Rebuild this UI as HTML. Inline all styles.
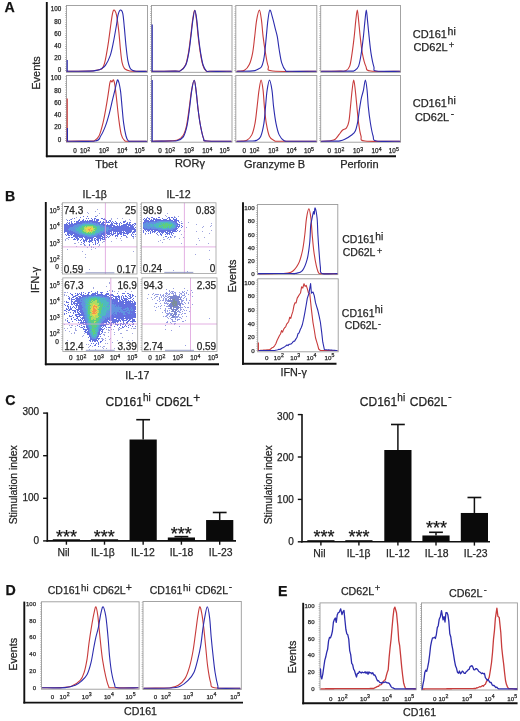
<!DOCTYPE html>
<html><head><meta charset="utf-8"><title>Figure</title>
<style>
html,body{margin:0;padding:0;background:#fff;width:520px;height:721px;overflow:hidden;}
svg{display:block;filter:blur(0.3px);}
text{font-family:"Liberation Sans", sans-serif;stroke:#2a2a2a;stroke-width:0.25px;}
</style></head><body>
<svg width="520" height="721" viewBox="0 0 520 721">
<rect width="520" height="721" fill="#fff"/>
<g font-family='"Liberation Sans", sans-serif'>
<text x="4.6" y="11.9" font-size="14.2" text-anchor="start" font-weight="bold" fill="#111">A</text>
<line x1="46.8" y1="2" x2="46.8" y2="157.2" stroke="#111" stroke-width="1.9"/>
<line x1="45.9" y1="156.3" x2="396" y2="156.3" stroke="#111" stroke-width="1.9"/>
<text transform="translate(40.3 73) rotate(-90)" x="0" y="0" font-size="11" text-anchor="middle" fill="#222">Events</text>
<rect x="66.5" y="5.5" width="81" height="66.8" fill="none" stroke="#9a9a9a" stroke-width="0.9"/>
<line x1="65.7" y1="6.5" x2="65.7" y2="71.3" stroke="#999" stroke-width="1.2" stroke-dasharray="0.6 1.6"/>
<rect x="66.5" y="75.5" width="81" height="66.7" fill="none" stroke="#9a9a9a" stroke-width="0.9"/>
<line x1="65.7" y1="76.5" x2="65.7" y2="141.2" stroke="#999" stroke-width="1.2" stroke-dasharray="0.6 1.6"/>
<rect x="151.5" y="5.5" width="80.5" height="66.8" fill="none" stroke="#9a9a9a" stroke-width="0.9"/>
<line x1="150.7" y1="6.5" x2="150.7" y2="71.3" stroke="#999" stroke-width="1.2" stroke-dasharray="0.6 1.6"/>
<rect x="151.5" y="75.5" width="80.5" height="66.7" fill="none" stroke="#9a9a9a" stroke-width="0.9"/>
<line x1="150.7" y1="76.5" x2="150.7" y2="141.2" stroke="#999" stroke-width="1.2" stroke-dasharray="0.6 1.6"/>
<rect x="235.8" y="5.5" width="81" height="66.8" fill="none" stroke="#9a9a9a" stroke-width="0.9"/>
<line x1="235" y1="6.5" x2="235" y2="71.3" stroke="#999" stroke-width="1.2" stroke-dasharray="0.6 1.6"/>
<rect x="235.8" y="75.5" width="81" height="66.7" fill="none" stroke="#9a9a9a" stroke-width="0.9"/>
<line x1="235" y1="76.5" x2="235" y2="141.2" stroke="#999" stroke-width="1.2" stroke-dasharray="0.6 1.6"/>
<rect x="320.7" y="5.5" width="79.8" height="66.8" fill="none" stroke="#9a9a9a" stroke-width="0.9"/>
<line x1="319.9" y1="6.5" x2="319.9" y2="71.3" stroke="#999" stroke-width="1.2" stroke-dasharray="0.6 1.6"/>
<rect x="320.7" y="75.5" width="79.8" height="66.7" fill="none" stroke="#9a9a9a" stroke-width="0.9"/>
<line x1="319.9" y1="76.5" x2="319.9" y2="141.2" stroke="#999" stroke-width="1.2" stroke-dasharray="0.6 1.6"/>
<text x="61.3" y="11.37" font-size="6.3" text-anchor="end" fill="#222">100</text>
<text x="61.3" y="23.55" font-size="6.3" text-anchor="end" fill="#222">80</text>
<text x="61.3" y="35.73" font-size="6.3" text-anchor="end" fill="#222">60</text>
<text x="61.3" y="47.91" font-size="6.3" text-anchor="end" fill="#222">40</text>
<text x="61.3" y="60.09" font-size="6.3" text-anchor="end" fill="#222">20</text>
<text x="61.3" y="72.27" font-size="6.3" text-anchor="end" fill="#222">0</text>
<text x="61.3" y="80.47" font-size="6.3" text-anchor="end" fill="#222">100</text>
<text x="61.3" y="92.69" font-size="6.3" text-anchor="end" fill="#222">80</text>
<text x="61.3" y="104.91" font-size="6.3" text-anchor="end" fill="#222">60</text>
<text x="61.3" y="117.13" font-size="6.3" text-anchor="end" fill="#222">40</text>
<text x="61.3" y="129.35" font-size="6.3" text-anchor="end" fill="#222">20</text>
<text x="61.3" y="141.57" font-size="6.3" text-anchor="end" fill="#222">0</text>
<text x="75" y="153.2" font-size="6.3" text-anchor="middle" fill="#222">0</text>
<text x="80.1" y="153.2" font-size="6.3" text-anchor="start" fill="#222">10<tspan dx="0.2" dy="-2.65" font-size="5.2">2</tspan></text>
<text x="98.9" y="153.2" font-size="6.3" text-anchor="start" fill="#222">10<tspan dx="0.2" dy="-2.65" font-size="5.2">3</tspan></text>
<text x="117.3" y="153.2" font-size="6.3" text-anchor="start" fill="#222">10<tspan dx="0.2" dy="-2.65" font-size="5.2">4</tspan></text>
<text x="134.6" y="153.2" font-size="6.3" text-anchor="start" fill="#222">10<tspan dx="0.2" dy="-2.65" font-size="5.2">5</tspan></text>
<text x="160" y="153.2" font-size="6.3" text-anchor="middle" fill="#222">0</text>
<text x="165.1" y="153.2" font-size="6.3" text-anchor="start" fill="#222">10<tspan dx="0.2" dy="-2.65" font-size="5.2">2</tspan></text>
<text x="183.9" y="153.2" font-size="6.3" text-anchor="start" fill="#222">10<tspan dx="0.2" dy="-2.65" font-size="5.2">3</tspan></text>
<text x="202.3" y="153.2" font-size="6.3" text-anchor="start" fill="#222">10<tspan dx="0.2" dy="-2.65" font-size="5.2">4</tspan></text>
<text x="219.6" y="153.2" font-size="6.3" text-anchor="start" fill="#222">10<tspan dx="0.2" dy="-2.65" font-size="5.2">5</tspan></text>
<text x="244.3" y="153.2" font-size="6.3" text-anchor="middle" fill="#222">0</text>
<text x="249.4" y="153.2" font-size="6.3" text-anchor="start" fill="#222">10<tspan dx="0.2" dy="-2.65" font-size="5.2">2</tspan></text>
<text x="268.2" y="153.2" font-size="6.3" text-anchor="start" fill="#222">10<tspan dx="0.2" dy="-2.65" font-size="5.2">3</tspan></text>
<text x="286.6" y="153.2" font-size="6.3" text-anchor="start" fill="#222">10<tspan dx="0.2" dy="-2.65" font-size="5.2">4</tspan></text>
<text x="303.9" y="153.2" font-size="6.3" text-anchor="start" fill="#222">10<tspan dx="0.2" dy="-2.65" font-size="5.2">5</tspan></text>
<text x="329.2" y="153.2" font-size="6.3" text-anchor="middle" fill="#222">0</text>
<text x="334.3" y="153.2" font-size="6.3" text-anchor="start" fill="#222">10<tspan dx="0.2" dy="-2.65" font-size="5.2">2</tspan></text>
<text x="353.1" y="153.2" font-size="6.3" text-anchor="start" fill="#222">10<tspan dx="0.2" dy="-2.65" font-size="5.2">3</tspan></text>
<text x="371.5" y="153.2" font-size="6.3" text-anchor="start" fill="#222">10<tspan dx="0.2" dy="-2.65" font-size="5.2">4</tspan></text>
<text x="388.8" y="153.2" font-size="6.3" text-anchor="start" fill="#222">10<tspan dx="0.2" dy="-2.65" font-size="5.2">5</tspan></text>
<text x="106.2" y="167.6" font-size="11" text-anchor="middle" fill="#222">Tbet</text>
<text x="189.9" y="167.4" font-size="11" text-anchor="middle" fill="#222">ROR<tspan font-size="11">&#947;</tspan></text>
<text x="274.6" y="167.6" font-size="11" text-anchor="middle" fill="#222">Granzyme B</text>
<text x="359.4" y="167.6" font-size="11" text-anchor="middle" fill="#222">Perforin</text>
<text x="412.7" y="38.4" font-size="11" text-anchor="start" fill="#222">CD161</text>
<text x="447.62" y="34.61" font-size="10.5" text-anchor="start" fill="#222">hi</text>
<text x="413.4" y="51.3" font-size="11" text-anchor="start" fill="#222">CD62L</text>
<text x="448.87" y="47.53" font-size="9.5" text-anchor="start" fill="#222">+</text>
<text x="412.7" y="107.4" font-size="11" text-anchor="start" fill="#222">CD161</text>
<text x="447.62" y="104.21" font-size="10.5" text-anchor="start" fill="#222">hi</text>
<text x="414.9" y="121" font-size="11" text-anchor="start" fill="#222">CD62L</text>
<text x="450.75" y="117.25" font-size="10" text-anchor="start" fill="#222">-</text>
<path d="M67 71.3 C70.83 71.25 85.33 71.13 90 70.99 C94.67 70.86 93.33 70.74 95 70.48 C96.67 70.22 98.78 69.8 100 69.45 C101.22 69.11 101.55 69.45 102.3 68.43 C103.05 67.4 103.85 65.44 104.5 63.3 C105.15 61.17 105.52 59.32 106.2 55.62 C106.88 51.91 107.8 46.46 108.6 41.06 C109.4 35.66 110.35 27.8 111 23.22 C111.65 18.64 111.98 15.79 112.5 13.59 C113.02 11.38 113.43 9.74 114.1 10 C114.77 10.26 115.72 11.57 116.5 15.13 C117.28 18.68 118.15 25.65 118.8 31.32 C119.45 36.99 119.87 44.03 120.4 49.16 C120.93 54.28 121.33 58.86 122 62.07 C122.67 65.29 123.48 67.08 124.4 68.43 C125.32 69.78 126.23 69.69 127.5 70.17 C128.77 70.65 128.83 71.11 132 71.3 C135.17 71.49 144.08 71.3 146.5 71.3" fill="none" stroke="#c83c3c" stroke-width="1.1" stroke-linejoin="round" stroke-linecap="round"/>
<path d="M67 71.3 C70.83 71.27 84.92 71.28 90 71.09 C95.08 70.91 95.67 70.53 97.5 70.17 C99.33 69.81 99.68 69.75 101 68.94 C102.32 68.14 103.87 67.58 105.4 65.35 C106.93 63.13 108.88 59.39 110.2 55.62 C111.52 51.84 112.25 47.83 113.3 42.7 C114.35 37.57 115.72 29.46 116.5 24.86 C117.28 20.27 117.35 17.6 118 15.13 C118.65 12.65 119.6 10.26 120.4 10 C121.2 9.74 122.13 10.56 122.8 13.59 C123.47 16.61 123.87 22.76 124.4 28.14 C124.93 33.53 125.43 40.5 126 45.88 C126.57 51.26 127.15 56.8 127.8 60.43 C128.45 64.07 129.17 66.09 129.9 67.71 C130.63 69.34 131.18 69.57 132.2 70.17 C133.22 70.77 133.62 71.11 136 71.3 C138.38 71.49 144.75 71.3 146.5 71.3" fill="none" stroke="#2c2cae" stroke-width="1.1" stroke-linejoin="round" stroke-linecap="round"/>
<line x1="67.2" y1="71.3" x2="67.2" y2="60" stroke="#2c2cae" stroke-width="1.2"/>
<path d="M67 141.2 C70.83 141.17 85.43 141.08 90 140.99 C94.57 140.91 92.9 141.51 94.4 140.68 C95.9 139.85 97.57 138.99 99 136.01 C100.43 133.04 101.8 127.77 103 122.84 C104.2 117.91 105.27 111.69 106.2 106.45 C107.13 101.21 108 95.3 108.6 91.41 C109.2 87.52 109.43 84.93 109.8 83.11 C110.17 81.3 110.47 80.69 110.8 80.52 C111.13 80.35 111.5 82.02 111.8 82.07 C112.1 82.13 112.3 81.18 112.6 80.83 C112.9 80.48 113.22 79.27 113.6 80 C113.98 80.73 114.42 82.13 114.9 85.19 C115.38 88.25 115.85 92.65 116.5 98.36 C117.15 104.07 118.02 113.42 118.8 119.42 C119.58 125.42 120.27 130.84 121.2 134.35 C122.13 137.86 123.27 139.33 124.4 140.47 C125.53 141.61 124.32 141.08 128 141.2 C131.68 141.32 143.42 141.2 146.5 141.2" fill="none" stroke="#c83c3c" stroke-width="1.1" stroke-linejoin="round" stroke-linecap="round"/>
<path d="M67 141.2 C71.67 141.17 89.38 141.86 95 140.99 C100.62 140.13 98.97 138.49 100.7 136.01 C102.43 133.54 103.95 129.98 105.4 126.16 C106.85 122.34 108.22 117.46 109.4 113.09 C110.58 108.72 111.58 103.74 112.5 99.92 C113.42 96.1 114.23 92.97 114.9 90.17 C115.57 87.36 115.98 84.81 116.5 83.11 C117.02 81.42 117.35 78.82 118 80 C118.65 81.18 119.73 85.76 120.4 90.17 C121.07 94.57 121.47 101.01 122 106.45 C122.53 111.9 122.93 117.91 123.6 122.84 C124.27 127.77 125.22 133.01 126 136.01 C126.78 139.02 127.3 140.02 128.3 140.89 C129.3 141.75 128.97 141.15 132 141.2 C135.03 141.25 144.08 141.2 146.5 141.2" fill="none" stroke="#2c2cae" stroke-width="1.1" stroke-linejoin="round" stroke-linecap="round"/>
<line x1="67.2" y1="141.2" x2="67.2" y2="98.6" stroke="#c83c3c" stroke-width="1.2"/>
<line x1="67.4" y1="141.2" x2="67.4" y2="128" stroke="#2c2cae" stroke-width="1.2"/>
<path d="M152 71.3 C155.83 71.27 170.33 71.16 175 71.1 C179.67 71.03 178.25 71.91 180 70.89 C181.75 69.87 184.07 68.13 185.5 64.99 C186.93 61.85 187.73 56.89 188.6 52.05 C189.47 47.22 190.03 41.31 190.7 35.97 C191.37 30.62 191.95 24.26 192.6 19.98 C193.25 15.7 193.95 10.31 194.6 10.31 C195.25 10.31 195.92 15.7 196.5 19.98 C197.08 24.26 197.48 30.62 198.1 35.97 C198.72 41.31 199.42 47.22 200.2 52.05 C200.98 56.89 201.83 61.85 202.8 64.99 C203.77 68.13 204.8 69.84 206 70.89 C207.2 71.94 205.83 71.23 210 71.3 C214.17 71.37 227.5 71.3 231 71.3" fill="none" stroke="#c83c3c" stroke-width="1.1" stroke-linejoin="round" stroke-linecap="round"/>
<path d="M152.3 71.3 C156.13 71.27 170.63 71.16 175.3 71.1 C179.97 71.03 178.55 71.91 180.3 70.89 C182.05 69.87 184.37 68.13 185.8 64.99 C187.23 61.85 188.03 56.89 188.9 52.05 C189.77 47.22 190.33 41.31 191 35.97 C191.67 30.62 192.25 24.26 192.9 19.98 C193.55 15.7 194.25 10.31 194.9 10.31 C195.55 10.31 196.22 15.7 196.8 19.98 C197.38 24.26 197.78 30.62 198.4 35.97 C199.02 41.31 199.72 47.22 200.5 52.05 C201.28 56.89 202.13 61.85 203.1 64.99 C204.07 68.13 205.1 69.84 206.3 70.89 C207.5 71.94 206.13 71.23 210.3 71.3 C214.47 71.37 227.8 71.3 231.3 71.3" fill="none" stroke="#2c2cae" stroke-width="1.1" stroke-linejoin="round" stroke-linecap="round"/>
<line x1="152.2" y1="71.3" x2="152.2" y2="24.5" stroke="#2c2cae" stroke-width="1.2"/>
<path d="M152 141.2 C155 141.15 165.67 141.15 170 140.89 C174.33 140.63 175.82 140.55 178 139.66 C180.18 138.77 181.68 137.86 183.1 135.54 C184.52 133.23 185.52 130.11 186.5 125.77 C187.48 121.43 188.15 115.47 189 109.52 C189.85 103.57 190.73 94.95 191.6 90.08 C192.47 85.21 193.47 80.31 194.2 80.31 C194.93 80.31 195.35 85.21 196 90.08 C196.65 94.95 197.35 103.57 198.1 109.52 C198.85 115.47 199.58 120.92 200.5 125.77 C201.42 130.62 202.55 136.09 203.6 138.63 C204.65 141.17 202.23 140.57 206.8 140.99 C211.37 141.42 226.97 141.17 231 141.2" fill="none" stroke="#c83c3c" stroke-width="1.1" stroke-linejoin="round" stroke-linecap="round"/>
<path d="M152 141.2 C155 141.17 165.87 141.08 170 140.99 C174.13 140.91 174.62 141.34 176.8 140.69 C178.98 140.03 181.4 139.57 183.1 137.09 C184.8 134.6 185.95 130.37 187 125.77 C188.05 121.18 188.6 115.47 189.4 109.52 C190.2 103.57 191 94.95 191.8 90.08 C192.6 85.21 193.5 80.31 194.2 80.31 C194.9 80.31 195.35 85.21 196 90.08 C196.65 94.95 197.35 103.57 198.1 109.52 C198.85 115.47 199.58 120.92 200.5 125.77 C201.42 130.62 202.55 136.09 203.6 138.63 C204.65 141.17 202.23 140.57 206.8 140.99 C211.37 141.42 226.97 141.17 231 141.2" fill="none" stroke="#2c2cae" stroke-width="1.1" stroke-linejoin="round" stroke-linecap="round"/>
<line x1="152.2" y1="141.2" x2="152.2" y2="80" stroke="#2c2cae" stroke-width="1.2"/>
<path d="M237 71.3 C237.3 71.27 237.55 71.27 238.8 71.1 C240.05 70.93 242.75 71.38 244.5 70.29 C246.25 69.19 247.95 67.38 249.3 64.51 C250.65 61.64 251.7 57.71 252.6 53.06 C253.5 48.42 254.03 42.1 254.7 36.65 C255.37 31.19 255.82 24.76 256.6 20.33 C257.38 15.91 258.58 10.1 259.4 10.1 C260.22 10.1 260.88 15.91 261.5 20.33 C262.12 24.76 262.43 31.19 263.1 36.65 C263.77 42.1 264.65 48.15 265.5 53.06 C266.35 57.98 266.98 63.14 268.2 66.13 C269.42 69.12 264.83 70.13 272.8 71 C280.77 71.86 308.8 71.25 316 71.3" fill="none" stroke="#c83c3c" stroke-width="1.1" stroke-linejoin="round" stroke-linecap="round"/>
<path d="M237 71.3 C239.17 71.27 247 71.22 250 71.1 C253 70.98 253.67 70.89 255 70.59 C256.33 70.29 256.92 69.92 258 69.27 C259.08 68.63 260.58 68.18 261.5 66.74 C262.42 65.31 262.97 62.94 263.5 60.66 C264.03 58.38 264.23 57.06 264.7 53.06 C265.17 49.06 265.77 42.1 266.3 36.65 C266.83 31.19 267.3 24.76 267.9 20.33 C268.5 15.91 269.08 10.39 269.9 10.1 C270.72 9.81 271.92 15.56 272.8 18.61 C273.68 21.67 274.45 25.43 275.2 28.44 C275.95 31.45 276.63 33.1 277.3 36.65 C277.97 40.19 278.47 45.34 279.2 49.72 C279.93 54.09 280.62 59.41 281.7 62.89 C282.78 66.37 284.32 69.19 285.7 70.59 C287.08 71.99 284.95 71.18 290 71.3 C295.05 71.42 311.67 71.3 316 71.3" fill="none" stroke="#2c2cae" stroke-width="1.1" stroke-linejoin="round" stroke-linecap="round"/>
<path d="M237 141.2 C237.83 141.17 240.35 141.17 242 141 C243.65 140.83 245.27 141.2 246.9 140.18 C248.53 139.16 250.45 137.68 251.8 134.88 C253.15 132.07 254.12 128.03 255 123.35 C255.88 118.67 256.43 112.32 257.1 106.83 C257.77 101.33 258.33 94.86 259 90.4 C259.67 85.95 260.42 80.1 261.1 80.1 C261.78 80.1 262.55 85.95 263.1 90.4 C263.65 94.86 263.87 101.33 264.4 106.83 C264.93 112.32 265.45 118.4 266.3 123.35 C267.15 128.3 268.15 133.6 269.5 136.51 C270.85 139.41 272.65 140.01 274.4 140.79 C276.15 141.57 273.07 141.13 280 141.2 C286.93 141.27 310 141.2 316 141.2" fill="none" stroke="#c83c3c" stroke-width="1.1" stroke-linejoin="round" stroke-linecap="round"/>
<path d="M237 141.2 C239.17 141.17 246.73 141.13 250 141 C253.27 140.86 254.82 141.13 256.6 140.38 C258.38 139.64 259.48 139.35 260.7 136.51 C261.92 133.67 263.1 128.3 263.9 123.35 C264.7 118.4 264.97 112.32 265.5 106.83 C266.03 101.33 266.43 94.86 267.1 90.4 C267.77 85.95 268.68 80.1 269.5 80.1 C270.32 80.1 271.32 85.95 272 90.4 C272.68 94.86 272.93 101.33 273.6 106.83 C274.27 112.32 275.07 118.67 276 123.35 C276.93 128.03 277.85 131.99 279.2 134.88 C280.55 137.77 282.3 139.64 284.1 140.69 C285.9 141.74 284.68 141.11 290 141.2 C295.32 141.28 311.67 141.2 316 141.2" fill="none" stroke="#2c2cae" stroke-width="1.1" stroke-linejoin="round" stroke-linecap="round"/>
<path d="M321.5 71.3 C324.58 71.27 335.97 71.18 340 71.1 C344.03 71.01 344.08 71.62 345.7 70.79 C347.32 69.97 348.63 69.09 349.7 66.13 C350.77 63.18 351.35 57.98 352.1 53.06 C352.85 48.15 353.58 42.1 354.2 36.65 C354.82 31.19 355.28 24.78 355.8 20.33 C356.32 15.89 356.83 10 357.3 10 C357.77 10 358.12 15.89 358.6 20.33 C359.08 24.78 359.58 31.19 360.2 36.65 C360.82 42.1 361.37 48.15 362.3 53.06 C363.23 57.98 364.4 63.14 365.8 66.13 C367.2 69.12 365.05 70.13 370.7 71 C376.35 71.86 394.87 71.25 399.7 71.3" fill="none" stroke="#c83c3c" stroke-width="1.1" stroke-linejoin="round" stroke-linecap="round"/>
<path d="M321.5 71.3 C326.25 71.27 344.5 71.22 350 71.1 C355.5 70.98 353.07 71.42 354.5 70.59 C355.93 69.76 357.47 69.05 358.6 66.13 C359.73 63.21 360.5 57.98 361.3 53.06 C362.1 48.15 362.78 42.1 363.4 36.65 C364.02 31.19 364.52 24.78 365 20.33 C365.48 15.89 365.88 10 366.3 10 C366.72 10 367.03 15.89 367.5 20.33 C367.97 24.78 368.52 31.19 369.1 36.65 C369.68 42.1 370.2 48.01 371 53.06 C371.8 58.11 373 63.95 373.9 66.94 C374.8 69.93 372.1 70.27 376.4 71 C380.7 71.72 395.82 71.25 399.7 71.3" fill="none" stroke="#2c2cae" stroke-width="1.1" stroke-linejoin="round" stroke-linecap="round"/>
<path d="M321.5 141.2 C322.58 141.17 326.53 141.08 328 141 C329.47 140.91 329.1 140.98 330.3 140.69 C331.5 140.41 333.72 140.32 335.2 139.28 C336.68 138.23 338 135.92 339.2 134.42 C340.4 132.92 341.18 131.37 342.4 130.28 C343.62 129.18 345.42 129.33 346.5 127.85 C347.58 126.36 348.23 124.91 348.9 121.37 C349.57 117.83 349.97 111.78 350.5 106.6 C351.03 101.43 351.57 94.74 352.1 90.32 C352.63 85.9 353.17 80.1 353.7 80.1 C354.23 80.1 354.77 85.9 355.3 90.32 C355.83 94.74 356.35 101.16 356.9 106.6 C357.45 112.05 357.92 118.09 358.6 122.99 C359.28 127.9 359.93 133.04 361 136.04 C362.07 139.04 358.55 140.14 365 141 C371.45 141.86 393.92 141.17 399.7 141.2" fill="none" stroke="#c83c3c" stroke-width="1.1" stroke-linejoin="round" stroke-linecap="round"/>
<path d="M321.5 141.2 C323.75 141.18 331.92 141.15 335 141.1 C338.08 141.05 338.37 141.2 340 140.9 C341.63 140.59 342.92 140.22 344.8 139.28 C346.68 138.33 349.55 136.6 351.3 135.23 C353.05 133.87 354.22 133.39 355.3 131.08 C356.38 128.77 357.12 124.91 357.8 121.37 C358.48 117.83 358.82 113.67 359.4 109.84 C359.98 106.01 360.63 101.66 361.3 98.41 C361.97 95.16 362.72 93.37 363.4 90.32 C364.08 87.27 364.78 80.1 365.4 80.1 C366.02 80.1 366.62 85.9 367.1 90.32 C367.58 94.74 367.75 101.16 368.3 106.6 C368.85 112.05 369.6 118.09 370.4 122.99 C371.2 127.9 372.1 133.04 373.1 136.04 C374.1 139.04 371.97 140.14 376.4 141 C380.83 141.86 395.82 141.17 399.7 141.2" fill="none" stroke="#2c2cae" stroke-width="1.1" stroke-linejoin="round" stroke-linecap="round"/>
<text x="5" y="200.5" font-size="14.2" text-anchor="start" font-weight="bold" fill="#111">B</text>
<text x="82.6" y="197.7" font-size="10.6" text-anchor="start" fill="#222">IL-1&#946;</text>
<text x="166.4" y="197.7" font-size="10.6" text-anchor="start" fill="#222">IL-12</text>
<line x1="45.8" y1="202" x2="45.8" y2="365.2" stroke="#111" stroke-width="1.9"/>
<line x1="44.9" y1="364.3" x2="219" y2="364.3" stroke="#111" stroke-width="1.9"/>
<text transform="translate(38.6 280) rotate(-90)" font-size="10.6" text-anchor="middle" fill="#222">IFN-&#947;</text>
<text x="137.3" y="378.8" font-size="10.6" text-anchor="middle" fill="#222">IL-17</text>
<path d="M97 209h1v1h-1zM95 211h1v1h-1zM87 212h1v1h-1zM88 213h1v1h-1zM99 213h1v1h-1zM97 215h1v1h-1zM96 216h1v1h-1zM76 217h1v1h-1zM72 218h1v1h-1zM104 218h1v1h-1zM111 218h1v1h-1zM117 218h1v1h-1zM122 218h1v1h-1zM66 219h1v1h-1zM70 219h1v1h-1zM111 219h1v1h-1zM129 219h1v1h-1zM125 220h1v1h-1zM130 220h1v1h-1zM135 236h1v1h-1zM126 237h1v1h-1zM127 237h1v1h-1zM133 237h1v1h-1zM66 238h1v1h-1zM67 238h1v1h-1zM116 238h1v1h-1zM120 238h1v1h-1zM133 238h1v1h-1zM65 239h1v1h-1zM68 239h1v1h-1zM65 240h1v1h-1zM105 240h1v1h-1zM121 240h1v1h-1zM103 241h1v1h-1zM104 241h1v1h-1zM111 241h1v1h-1zM78 242h1v1h-1zM102 242h1v1h-1zM74 243h1v1h-1zM75 243h1v1h-1zM80 244h1v1h-1zM81 244h1v1h-1zM99 244h1v1h-1zM84 245h1v1h-1zM85 245h1v1h-1zM99 245h1v1h-1zM76 246h1v1h-1zM91 246h1v1h-1zM98 246h1v1h-1zM87 247h1v1h-1zM91 247h1v1h-1zM93 247h1v1h-1zM95 248h1v1h-1zM67 249h1v1h-1zM91 249h1v1h-1zM82 251h1v1h-1zM133 251h1v1h-1zM85 254h1v1h-1zM85 257h1v1h-1zM89 269h1v1h-1z" fill="#8890d8" opacity="0.8"/>
<path d="M83 216h1v1h-1zM87 216h1v1h-1zM95 216h1v1h-1zM80 217h1v1h-1zM74 218h1v1h-1zM86 218h1v1h-1zM88 218h1v1h-1zM91 218h1v1h-1zM94 218h1v1h-1zM95 218h1v1h-1zM101 218h1v1h-1zM102 218h1v1h-1zM71 219h1v1h-1zM79 219h1v1h-1zM83 219h1v1h-1zM92 219h1v1h-1zM94 219h1v1h-1zM96 219h1v1h-1zM97 219h1v1h-1zM98 219h1v1h-1zM103 219h1v1h-1zM104 219h1v1h-1zM105 219h1v1h-1zM67 220h1v1h-1zM69 220h1v1h-1zM78 220h1v1h-1zM79 220h1v1h-1zM82 220h1v1h-1zM83 220h1v1h-1zM85 220h1v1h-1zM87 220h1v1h-1zM89 220h1v1h-1zM90 220h1v1h-1zM91 220h1v1h-1zM92 220h1v1h-1zM94 220h1v1h-1zM96 220h1v1h-1zM97 220h1v1h-1zM98 220h1v1h-1zM105 220h1v1h-1zM106 220h1v1h-1zM109 220h1v1h-1zM110 220h1v1h-1zM71 221h1v1h-1zM74 221h1v1h-1zM76 221h1v1h-1zM77 221h1v1h-1zM78 221h1v1h-1zM80 221h1v1h-1zM81 221h1v1h-1zM82 221h1v1h-1zM83 221h1v1h-1zM84 221h1v1h-1zM85 221h1v1h-1zM86 221h1v1h-1zM87 221h1v1h-1zM88 221h1v1h-1zM89 221h1v1h-1zM90 221h1v1h-1zM91 221h1v1h-1zM92 221h1v1h-1zM93 221h1v1h-1zM94 221h1v1h-1zM95 221h1v1h-1zM96 221h1v1h-1zM97 221h1v1h-1zM100 221h1v1h-1zM103 221h1v1h-1zM106 221h1v1h-1zM108 221h1v1h-1zM110 221h1v1h-1zM112 221h1v1h-1zM115 221h1v1h-1zM123 221h1v1h-1zM124 221h1v1h-1zM125 221h1v1h-1zM67 222h1v1h-1zM69 222h1v1h-1zM71 222h1v1h-1zM76 222h1v1h-1zM77 222h1v1h-1zM78 222h1v1h-1zM79 222h1v1h-1zM80 222h1v1h-1zM81 222h1v1h-1zM82 222h1v1h-1zM83 222h1v1h-1zM84 222h1v1h-1zM86 222h1v1h-1zM87 222h1v1h-1zM89 222h1v1h-1zM92 222h1v1h-1zM93 222h1v1h-1zM94 222h1v1h-1zM95 222h1v1h-1zM96 222h1v1h-1zM97 222h1v1h-1zM98 222h1v1h-1zM99 222h1v1h-1zM100 222h1v1h-1zM102 222h1v1h-1zM103 222h1v1h-1zM104 222h1v1h-1zM105 222h1v1h-1zM106 222h1v1h-1zM107 222h1v1h-1zM108 222h1v1h-1zM109 222h1v1h-1zM111 222h1v1h-1zM113 222h1v1h-1zM116 222h1v1h-1zM120 222h1v1h-1zM123 222h1v1h-1zM124 222h1v1h-1zM127 222h1v1h-1zM129 222h1v1h-1zM130 222h1v1h-1zM66 223h1v1h-1zM68 223h1v1h-1zM69 223h1v1h-1zM71 223h1v1h-1zM72 223h1v1h-1zM74 223h1v1h-1zM75 223h1v1h-1zM76 223h1v1h-1zM77 223h1v1h-1zM78 223h1v1h-1zM79 223h1v1h-1zM80 223h1v1h-1zM81 223h1v1h-1zM96 223h1v1h-1zM98 223h1v1h-1zM99 223h1v1h-1zM101 223h1v1h-1zM102 223h1v1h-1zM103 223h1v1h-1zM105 223h1v1h-1zM111 223h1v1h-1zM112 223h1v1h-1zM114 223h1v1h-1zM115 223h1v1h-1zM116 223h1v1h-1zM117 223h1v1h-1zM119 223h1v1h-1zM121 223h1v1h-1zM126 223h1v1h-1zM127 223h1v1h-1zM129 223h1v1h-1zM134 223h1v1h-1zM135 223h1v1h-1zM64 224h1v1h-1zM65 224h1v1h-1zM66 224h1v1h-1zM67 224h1v1h-1zM69 224h1v1h-1zM70 224h1v1h-1zM71 224h1v1h-1zM72 224h1v1h-1zM73 224h1v1h-1zM74 224h1v1h-1zM75 224h1v1h-1zM76 224h1v1h-1zM99 224h1v1h-1zM101 224h1v1h-1zM102 224h1v1h-1zM103 224h1v1h-1zM104 224h1v1h-1zM105 224h1v1h-1zM107 224h1v1h-1zM110 224h1v1h-1zM111 224h1v1h-1zM112 224h1v1h-1zM116 224h1v1h-1zM119 224h1v1h-1zM123 224h1v1h-1zM124 224h1v1h-1zM125 224h1v1h-1zM126 224h1v1h-1zM127 224h1v1h-1zM128 224h1v1h-1zM129 224h1v1h-1zM130 224h1v1h-1zM132 224h1v1h-1zM133 224h1v1h-1zM135 224h1v1h-1zM64 225h1v1h-1zM65 225h1v1h-1zM66 225h1v1h-1zM67 225h1v1h-1zM68 225h1v1h-1zM69 225h1v1h-1zM70 225h1v1h-1zM71 225h1v1h-1zM72 225h1v1h-1zM73 225h1v1h-1zM103 225h1v1h-1zM104 225h1v1h-1zM105 225h1v1h-1zM106 225h1v1h-1zM107 225h1v1h-1zM108 225h1v1h-1zM109 225h1v1h-1zM110 225h1v1h-1zM111 225h1v1h-1zM112 225h1v1h-1zM113 225h1v1h-1zM114 225h1v1h-1zM117 225h1v1h-1zM119 225h1v1h-1zM121 225h1v1h-1zM122 225h1v1h-1zM123 225h1v1h-1zM124 225h1v1h-1zM125 225h1v1h-1zM126 225h1v1h-1zM128 225h1v1h-1zM129 225h1v1h-1zM130 225h1v1h-1zM131 225h1v1h-1zM132 225h1v1h-1zM134 225h1v1h-1zM64 226h1v1h-1zM65 226h1v1h-1zM66 226h1v1h-1zM67 226h1v1h-1zM68 226h1v1h-1zM69 226h1v1h-1zM70 226h1v1h-1zM71 226h1v1h-1zM72 226h1v1h-1zM106 226h1v1h-1zM107 226h1v1h-1zM108 226h1v1h-1zM109 226h1v1h-1zM110 226h1v1h-1zM111 226h1v1h-1zM113 226h1v1h-1zM114 226h1v1h-1zM115 226h1v1h-1zM116 226h1v1h-1zM117 226h1v1h-1zM118 226h1v1h-1zM119 226h1v1h-1zM120 226h1v1h-1zM121 226h1v1h-1zM122 226h1v1h-1zM123 226h1v1h-1zM124 226h1v1h-1zM125 226h1v1h-1zM126 226h1v1h-1zM127 226h1v1h-1zM128 226h1v1h-1zM130 226h1v1h-1zM131 226h1v1h-1zM132 226h1v1h-1zM133 226h1v1h-1zM64 227h1v1h-1zM65 227h1v1h-1zM66 227h1v1h-1zM67 227h1v1h-1zM68 227h1v1h-1zM69 227h1v1h-1zM109 227h1v1h-1zM110 227h1v1h-1zM111 227h1v1h-1zM112 227h1v1h-1zM113 227h1v1h-1zM114 227h1v1h-1zM115 227h1v1h-1zM116 227h1v1h-1zM117 227h1v1h-1zM118 227h1v1h-1zM119 227h1v1h-1zM120 227h1v1h-1zM121 227h1v1h-1zM122 227h1v1h-1zM123 227h1v1h-1zM124 227h1v1h-1zM125 227h1v1h-1zM126 227h1v1h-1zM127 227h1v1h-1zM128 227h1v1h-1zM129 227h1v1h-1zM130 227h1v1h-1zM131 227h1v1h-1zM132 227h1v1h-1zM133 227h1v1h-1zM135 227h1v1h-1zM64 228h1v1h-1zM65 228h1v1h-1zM66 228h1v1h-1zM67 228h1v1h-1zM68 228h1v1h-1zM109 228h1v1h-1zM112 228h1v1h-1zM113 228h1v1h-1zM115 228h1v1h-1zM116 228h1v1h-1zM117 228h1v1h-1zM118 228h1v1h-1zM119 228h1v1h-1zM120 228h1v1h-1zM121 228h1v1h-1zM122 228h1v1h-1zM123 228h1v1h-1zM124 228h1v1h-1zM125 228h1v1h-1zM126 228h1v1h-1zM127 228h1v1h-1zM128 228h1v1h-1zM129 228h1v1h-1zM130 228h1v1h-1zM131 228h1v1h-1zM132 228h1v1h-1zM133 228h1v1h-1zM134 228h1v1h-1zM64 229h1v1h-1zM65 229h1v1h-1zM66 229h1v1h-1zM67 229h1v1h-1zM111 229h1v1h-1zM112 229h1v1h-1zM113 229h1v1h-1zM114 229h1v1h-1zM115 229h1v1h-1zM116 229h1v1h-1zM117 229h1v1h-1zM118 229h1v1h-1zM119 229h1v1h-1zM120 229h1v1h-1zM121 229h1v1h-1zM122 229h1v1h-1zM123 229h1v1h-1zM124 229h1v1h-1zM125 229h1v1h-1zM126 229h1v1h-1zM127 229h1v1h-1zM128 229h1v1h-1zM129 229h1v1h-1zM130 229h1v1h-1zM131 229h1v1h-1zM132 229h1v1h-1zM133 229h1v1h-1zM134 229h1v1h-1zM135 229h1v1h-1zM64 230h1v1h-1zM65 230h1v1h-1zM66 230h1v1h-1zM67 230h1v1h-1zM68 230h1v1h-1zM70 230h1v1h-1zM108 230h1v1h-1zM109 230h1v1h-1zM110 230h1v1h-1zM111 230h1v1h-1zM112 230h1v1h-1zM113 230h1v1h-1zM114 230h1v1h-1zM115 230h1v1h-1zM116 230h1v1h-1zM117 230h1v1h-1zM118 230h1v1h-1zM119 230h1v1h-1zM120 230h1v1h-1zM121 230h1v1h-1zM122 230h1v1h-1zM123 230h1v1h-1zM124 230h1v1h-1zM125 230h1v1h-1zM126 230h1v1h-1zM127 230h1v1h-1zM128 230h1v1h-1zM129 230h1v1h-1zM130 230h1v1h-1zM131 230h1v1h-1zM134 230h1v1h-1zM135 230h1v1h-1zM64 231h1v1h-1zM65 231h1v1h-1zM66 231h1v1h-1zM67 231h1v1h-1zM68 231h1v1h-1zM69 231h1v1h-1zM70 231h1v1h-1zM71 231h1v1h-1zM72 231h1v1h-1zM106 231h1v1h-1zM108 231h1v1h-1zM109 231h1v1h-1zM110 231h1v1h-1zM111 231h1v1h-1zM113 231h1v1h-1zM114 231h1v1h-1zM115 231h1v1h-1zM116 231h1v1h-1zM117 231h1v1h-1zM118 231h1v1h-1zM119 231h1v1h-1zM120 231h1v1h-1zM121 231h1v1h-1zM123 231h1v1h-1zM125 231h1v1h-1zM126 231h1v1h-1zM127 231h1v1h-1zM128 231h1v1h-1zM129 231h1v1h-1zM130 231h1v1h-1zM131 231h1v1h-1zM133 231h1v1h-1zM134 231h1v1h-1zM135 231h1v1h-1zM64 232h1v1h-1zM67 232h1v1h-1zM68 232h1v1h-1zM69 232h1v1h-1zM70 232h1v1h-1zM71 232h1v1h-1zM72 232h1v1h-1zM73 232h1v1h-1zM74 232h1v1h-1zM103 232h1v1h-1zM104 232h1v1h-1zM106 232h1v1h-1zM107 232h1v1h-1zM108 232h1v1h-1zM109 232h1v1h-1zM111 232h1v1h-1zM113 232h1v1h-1zM115 232h1v1h-1zM117 232h1v1h-1zM119 232h1v1h-1zM120 232h1v1h-1zM121 232h1v1h-1zM122 232h1v1h-1zM123 232h1v1h-1zM124 232h1v1h-1zM126 232h1v1h-1zM127 232h1v1h-1zM128 232h1v1h-1zM129 232h1v1h-1zM130 232h1v1h-1zM132 232h1v1h-1zM133 232h1v1h-1zM134 232h1v1h-1zM67 233h1v1h-1zM68 233h1v1h-1zM69 233h1v1h-1zM70 233h1v1h-1zM71 233h1v1h-1zM72 233h1v1h-1zM73 233h1v1h-1zM74 233h1v1h-1zM75 233h1v1h-1zM76 233h1v1h-1zM101 233h1v1h-1zM102 233h1v1h-1zM103 233h1v1h-1zM104 233h1v1h-1zM105 233h1v1h-1zM106 233h1v1h-1zM107 233h1v1h-1zM108 233h1v1h-1zM109 233h1v1h-1zM110 233h1v1h-1zM111 233h1v1h-1zM113 233h1v1h-1zM114 233h1v1h-1zM115 233h1v1h-1zM117 233h1v1h-1zM118 233h1v1h-1zM119 233h1v1h-1zM120 233h1v1h-1zM121 233h1v1h-1zM123 233h1v1h-1zM124 233h1v1h-1zM125 233h1v1h-1zM126 233h1v1h-1zM127 233h1v1h-1zM128 233h1v1h-1zM132 233h1v1h-1zM65 234h1v1h-1zM67 234h1v1h-1zM68 234h1v1h-1zM70 234h1v1h-1zM71 234h1v1h-1zM72 234h1v1h-1zM74 234h1v1h-1zM75 234h1v1h-1zM76 234h1v1h-1zM77 234h1v1h-1zM78 234h1v1h-1zM98 234h1v1h-1zM101 234h1v1h-1zM102 234h1v1h-1zM103 234h1v1h-1zM104 234h1v1h-1zM105 234h1v1h-1zM107 234h1v1h-1zM108 234h1v1h-1zM109 234h1v1h-1zM111 234h1v1h-1zM112 234h1v1h-1zM113 234h1v1h-1zM117 234h1v1h-1zM118 234h1v1h-1zM120 234h1v1h-1zM121 234h1v1h-1zM123 234h1v1h-1zM127 234h1v1h-1zM131 234h1v1h-1zM133 234h1v1h-1zM135 234h1v1h-1zM66 235h1v1h-1zM68 235h1v1h-1zM69 235h1v1h-1zM71 235h1v1h-1zM73 235h1v1h-1zM74 235h1v1h-1zM75 235h1v1h-1zM76 235h1v1h-1zM77 235h1v1h-1zM78 235h1v1h-1zM79 235h1v1h-1zM80 235h1v1h-1zM81 235h1v1h-1zM82 235h1v1h-1zM97 235h1v1h-1zM98 235h1v1h-1zM99 235h1v1h-1zM100 235h1v1h-1zM101 235h1v1h-1zM103 235h1v1h-1zM104 235h1v1h-1zM106 235h1v1h-1zM110 235h1v1h-1zM112 235h1v1h-1zM115 235h1v1h-1zM116 235h1v1h-1zM117 235h1v1h-1zM123 235h1v1h-1zM124 235h1v1h-1zM125 235h1v1h-1zM131 235h1v1h-1zM73 236h1v1h-1zM74 236h1v1h-1zM75 236h1v1h-1zM76 236h1v1h-1zM77 236h1v1h-1zM78 236h1v1h-1zM79 236h1v1h-1zM80 236h1v1h-1zM81 236h1v1h-1zM82 236h1v1h-1zM83 236h1v1h-1zM85 236h1v1h-1zM86 236h1v1h-1zM94 236h1v1h-1zM95 236h1v1h-1zM96 236h1v1h-1zM97 236h1v1h-1zM98 236h1v1h-1zM99 236h1v1h-1zM100 236h1v1h-1zM101 236h1v1h-1zM102 236h1v1h-1zM104 236h1v1h-1zM107 236h1v1h-1zM109 236h1v1h-1zM115 236h1v1h-1zM117 236h1v1h-1zM121 236h1v1h-1zM126 236h1v1h-1zM132 236h1v1h-1zM133 236h1v1h-1zM68 237h1v1h-1zM69 237h1v1h-1zM71 237h1v1h-1zM72 237h1v1h-1zM75 237h1v1h-1zM76 237h1v1h-1zM77 237h1v1h-1zM79 237h1v1h-1zM80 237h1v1h-1zM81 237h1v1h-1zM82 237h1v1h-1zM84 237h1v1h-1zM85 237h1v1h-1zM86 237h1v1h-1zM87 237h1v1h-1zM88 237h1v1h-1zM89 237h1v1h-1zM90 237h1v1h-1zM91 237h1v1h-1zM92 237h1v1h-1zM93 237h1v1h-1zM96 237h1v1h-1zM97 237h1v1h-1zM98 237h1v1h-1zM99 237h1v1h-1zM100 237h1v1h-1zM102 237h1v1h-1zM103 237h1v1h-1zM104 237h1v1h-1zM105 237h1v1h-1zM106 237h1v1h-1zM108 237h1v1h-1zM74 238h1v1h-1zM76 238h1v1h-1zM77 238h1v1h-1zM78 238h1v1h-1zM82 238h1v1h-1zM85 238h1v1h-1zM86 238h1v1h-1zM87 238h1v1h-1zM88 238h1v1h-1zM89 238h1v1h-1zM90 238h1v1h-1zM91 238h1v1h-1zM92 238h1v1h-1zM94 238h1v1h-1zM95 238h1v1h-1zM97 238h1v1h-1zM98 238h1v1h-1zM99 238h1v1h-1zM100 238h1v1h-1zM101 238h1v1h-1zM102 238h1v1h-1zM104 238h1v1h-1zM73 239h1v1h-1zM74 239h1v1h-1zM75 239h1v1h-1zM77 239h1v1h-1zM78 239h1v1h-1zM81 239h1v1h-1zM83 239h1v1h-1zM85 239h1v1h-1zM86 239h1v1h-1zM87 239h1v1h-1zM89 239h1v1h-1zM91 239h1v1h-1zM92 239h1v1h-1zM94 239h1v1h-1zM96 239h1v1h-1zM97 239h1v1h-1zM98 239h1v1h-1zM100 239h1v1h-1zM102 239h1v1h-1zM103 239h1v1h-1zM104 239h1v1h-1zM105 239h1v1h-1zM77 240h1v1h-1zM80 240h1v1h-1zM83 240h1v1h-1zM84 240h1v1h-1zM85 240h1v1h-1zM86 240h1v1h-1zM89 240h1v1h-1zM90 240h1v1h-1zM91 240h1v1h-1zM92 240h1v1h-1zM94 240h1v1h-1zM95 240h1v1h-1zM97 240h1v1h-1zM98 240h1v1h-1zM100 240h1v1h-1zM83 241h1v1h-1zM84 241h1v1h-1zM86 241h1v1h-1zM88 241h1v1h-1zM89 241h1v1h-1zM90 241h1v1h-1zM91 241h1v1h-1zM95 241h1v1h-1zM98 241h1v1h-1zM81 242h1v1h-1zM84 242h1v1h-1zM89 242h1v1h-1zM92 242h1v1h-1zM95 242h1v1h-1zM98 242h1v1h-1zM83 243h1v1h-1zM95 243h1v1h-1zM97 243h1v1h-1zM84 244h1v1h-1zM89 244h1v1h-1zM93 244h1v1h-1zM95 244h1v1h-1zM89 245h1v1h-1z" fill="#3c4cd8" opacity="0.8"/>
<path d="M85 222h1v1h-1zM88 222h1v1h-1zM90 222h1v1h-1zM91 222h1v1h-1zM82 223h1v1h-1zM83 223h1v1h-1zM84 223h1v1h-1zM85 223h1v1h-1zM86 223h1v1h-1zM87 223h1v1h-1zM88 223h1v1h-1zM89 223h1v1h-1zM90 223h1v1h-1zM91 223h1v1h-1zM92 223h1v1h-1zM93 223h1v1h-1zM94 223h1v1h-1zM95 223h1v1h-1zM97 223h1v1h-1zM77 224h1v1h-1zM78 224h1v1h-1zM79 224h1v1h-1zM80 224h1v1h-1zM81 224h1v1h-1zM82 224h1v1h-1zM93 224h1v1h-1zM94 224h1v1h-1zM95 224h1v1h-1zM96 224h1v1h-1zM97 224h1v1h-1zM98 224h1v1h-1zM100 224h1v1h-1zM74 225h1v1h-1zM75 225h1v1h-1zM76 225h1v1h-1zM77 225h1v1h-1zM78 225h1v1h-1zM79 225h1v1h-1zM80 225h1v1h-1zM96 225h1v1h-1zM97 225h1v1h-1zM99 225h1v1h-1zM100 225h1v1h-1zM101 225h1v1h-1zM102 225h1v1h-1zM73 226h1v1h-1zM74 226h1v1h-1zM75 226h1v1h-1zM76 226h1v1h-1zM77 226h1v1h-1zM78 226h1v1h-1zM100 226h1v1h-1zM101 226h1v1h-1zM102 226h1v1h-1zM103 226h1v1h-1zM104 226h1v1h-1zM105 226h1v1h-1zM70 227h1v1h-1zM71 227h1v1h-1zM72 227h1v1h-1zM73 227h1v1h-1zM74 227h1v1h-1zM75 227h1v1h-1zM77 227h1v1h-1zM100 227h1v1h-1zM102 227h1v1h-1zM103 227h1v1h-1zM104 227h1v1h-1zM105 227h1v1h-1zM106 227h1v1h-1zM107 227h1v1h-1zM108 227h1v1h-1zM69 228h1v1h-1zM70 228h1v1h-1zM71 228h1v1h-1zM72 228h1v1h-1zM73 228h1v1h-1zM74 228h1v1h-1zM76 228h1v1h-1zM101 228h1v1h-1zM104 228h1v1h-1zM105 228h1v1h-1zM106 228h1v1h-1zM107 228h1v1h-1zM108 228h1v1h-1zM110 228h1v1h-1zM111 228h1v1h-1zM114 228h1v1h-1zM68 229h1v1h-1zM69 229h1v1h-1zM70 229h1v1h-1zM71 229h1v1h-1zM72 229h1v1h-1zM73 229h1v1h-1zM74 229h1v1h-1zM75 229h1v1h-1zM101 229h1v1h-1zM103 229h1v1h-1zM104 229h1v1h-1zM105 229h1v1h-1zM106 229h1v1h-1zM107 229h1v1h-1zM108 229h1v1h-1zM109 229h1v1h-1zM110 229h1v1h-1zM69 230h1v1h-1zM71 230h1v1h-1zM72 230h1v1h-1zM73 230h1v1h-1zM74 230h1v1h-1zM75 230h1v1h-1zM103 230h1v1h-1zM104 230h1v1h-1zM105 230h1v1h-1zM106 230h1v1h-1zM107 230h1v1h-1zM73 231h1v1h-1zM74 231h1v1h-1zM75 231h1v1h-1zM76 231h1v1h-1zM77 231h1v1h-1zM100 231h1v1h-1zM101 231h1v1h-1zM102 231h1v1h-1zM103 231h1v1h-1zM104 231h1v1h-1zM105 231h1v1h-1zM107 231h1v1h-1zM75 232h1v1h-1zM76 232h1v1h-1zM77 232h1v1h-1zM78 232h1v1h-1zM99 232h1v1h-1zM100 232h1v1h-1zM101 232h1v1h-1zM102 232h1v1h-1zM105 232h1v1h-1zM77 233h1v1h-1zM78 233h1v1h-1zM79 233h1v1h-1zM80 233h1v1h-1zM81 233h1v1h-1zM96 233h1v1h-1zM97 233h1v1h-1zM98 233h1v1h-1zM99 233h1v1h-1zM100 233h1v1h-1zM79 234h1v1h-1zM80 234h1v1h-1zM81 234h1v1h-1zM82 234h1v1h-1zM83 234h1v1h-1zM84 234h1v1h-1zM95 234h1v1h-1zM96 234h1v1h-1zM97 234h1v1h-1zM99 234h1v1h-1zM100 234h1v1h-1zM83 235h1v1h-1zM84 235h1v1h-1zM85 235h1v1h-1zM86 235h1v1h-1zM87 235h1v1h-1zM88 235h1v1h-1zM91 235h1v1h-1zM92 235h1v1h-1zM93 235h1v1h-1zM94 235h1v1h-1zM95 235h1v1h-1zM96 235h1v1h-1zM84 236h1v1h-1zM87 236h1v1h-1zM88 236h1v1h-1zM89 236h1v1h-1zM90 236h1v1h-1zM91 236h1v1h-1zM92 236h1v1h-1zM93 236h1v1h-1z" fill="#3a78d8" opacity="0.8"/>
<path d="M83 224h1v1h-1zM84 224h1v1h-1zM85 224h1v1h-1zM86 224h1v1h-1zM87 224h1v1h-1zM88 224h1v1h-1zM89 224h1v1h-1zM90 224h1v1h-1zM91 224h1v1h-1zM92 224h1v1h-1zM81 225h1v1h-1zM82 225h1v1h-1zM83 225h1v1h-1zM84 225h1v1h-1zM94 225h1v1h-1zM95 225h1v1h-1zM98 225h1v1h-1zM79 226h1v1h-1zM80 226h1v1h-1zM81 226h1v1h-1zM96 226h1v1h-1zM97 226h1v1h-1zM98 226h1v1h-1zM99 226h1v1h-1zM76 227h1v1h-1zM78 227h1v1h-1zM79 227h1v1h-1zM80 227h1v1h-1zM81 227h1v1h-1zM97 227h1v1h-1zM98 227h1v1h-1zM99 227h1v1h-1zM101 227h1v1h-1zM75 228h1v1h-1zM77 228h1v1h-1zM78 228h1v1h-1zM79 228h1v1h-1zM97 228h1v1h-1zM98 228h1v1h-1zM99 228h1v1h-1zM100 228h1v1h-1zM102 228h1v1h-1zM103 228h1v1h-1zM76 229h1v1h-1zM77 229h1v1h-1zM78 229h1v1h-1zM79 229h1v1h-1zM80 229h1v1h-1zM97 229h1v1h-1zM98 229h1v1h-1zM99 229h1v1h-1zM100 229h1v1h-1zM102 229h1v1h-1zM76 230h1v1h-1zM77 230h1v1h-1zM78 230h1v1h-1zM79 230h1v1h-1zM80 230h1v1h-1zM81 230h1v1h-1zM96 230h1v1h-1zM97 230h1v1h-1zM98 230h1v1h-1zM99 230h1v1h-1zM100 230h1v1h-1zM101 230h1v1h-1zM102 230h1v1h-1zM78 231h1v1h-1zM79 231h1v1h-1zM80 231h1v1h-1zM81 231h1v1h-1zM95 231h1v1h-1zM96 231h1v1h-1zM97 231h1v1h-1zM98 231h1v1h-1zM99 231h1v1h-1zM79 232h1v1h-1zM80 232h1v1h-1zM81 232h1v1h-1zM82 232h1v1h-1zM95 232h1v1h-1zM96 232h1v1h-1zM97 232h1v1h-1zM98 232h1v1h-1zM82 233h1v1h-1zM83 233h1v1h-1zM84 233h1v1h-1zM86 233h1v1h-1zM92 233h1v1h-1zM94 233h1v1h-1zM95 233h1v1h-1zM85 234h1v1h-1zM86 234h1v1h-1zM87 234h1v1h-1zM88 234h1v1h-1zM89 234h1v1h-1zM90 234h1v1h-1zM91 234h1v1h-1zM92 234h1v1h-1zM93 234h1v1h-1zM94 234h1v1h-1zM89 235h1v1h-1zM90 235h1v1h-1z" fill="#22a8b0" opacity="0.8"/>
<path d="M85 225h1v1h-1zM86 225h1v1h-1zM87 225h1v1h-1zM88 225h1v1h-1zM89 225h1v1h-1zM90 225h1v1h-1zM91 225h1v1h-1zM92 225h1v1h-1zM93 225h1v1h-1zM82 226h1v1h-1zM83 226h1v1h-1zM84 226h1v1h-1zM86 226h1v1h-1zM93 226h1v1h-1zM94 226h1v1h-1zM95 226h1v1h-1zM82 227h1v1h-1zM83 227h1v1h-1zM93 227h1v1h-1zM94 227h1v1h-1zM95 227h1v1h-1zM96 227h1v1h-1zM80 228h1v1h-1zM81 228h1v1h-1zM82 228h1v1h-1zM83 228h1v1h-1zM95 228h1v1h-1zM96 228h1v1h-1zM81 229h1v1h-1zM82 229h1v1h-1zM83 229h1v1h-1zM94 229h1v1h-1zM95 229h1v1h-1zM96 229h1v1h-1zM82 230h1v1h-1zM95 230h1v1h-1zM82 231h1v1h-1zM83 231h1v1h-1zM93 231h1v1h-1zM94 231h1v1h-1zM83 232h1v1h-1zM84 232h1v1h-1zM85 232h1v1h-1zM88 232h1v1h-1zM90 232h1v1h-1zM92 232h1v1h-1zM93 232h1v1h-1zM94 232h1v1h-1zM85 233h1v1h-1zM87 233h1v1h-1zM88 233h1v1h-1zM89 233h1v1h-1zM90 233h1v1h-1zM91 233h1v1h-1zM93 233h1v1h-1z" fill="#34c060" opacity="0.8"/>
<path d="M85 226h1v1h-1zM87 226h1v1h-1zM88 226h1v1h-1zM89 226h1v1h-1zM90 226h1v1h-1zM91 226h1v1h-1zM92 226h1v1h-1zM84 227h1v1h-1zM85 227h1v1h-1zM86 227h1v1h-1zM91 227h1v1h-1zM84 228h1v1h-1zM93 228h1v1h-1zM94 228h1v1h-1zM84 229h1v1h-1zM85 229h1v1h-1zM93 229h1v1h-1zM83 230h1v1h-1zM84 230h1v1h-1zM85 230h1v1h-1zM92 230h1v1h-1zM93 230h1v1h-1zM94 230h1v1h-1zM84 231h1v1h-1zM85 231h1v1h-1zM86 231h1v1h-1zM89 231h1v1h-1zM91 231h1v1h-1zM92 231h1v1h-1zM86 232h1v1h-1zM87 232h1v1h-1zM89 232h1v1h-1zM91 232h1v1h-1z" fill="#9cd23a" opacity="0.8"/>
<path d="M87 227h1v1h-1zM88 227h1v1h-1zM89 227h1v1h-1zM90 227h1v1h-1zM92 227h1v1h-1zM85 228h1v1h-1zM86 228h1v1h-1zM87 228h1v1h-1zM88 228h1v1h-1zM89 228h1v1h-1zM91 228h1v1h-1zM92 228h1v1h-1zM86 229h1v1h-1zM87 229h1v1h-1zM90 229h1v1h-1zM91 229h1v1h-1zM92 229h1v1h-1zM86 230h1v1h-1zM87 230h1v1h-1zM88 230h1v1h-1zM90 230h1v1h-1zM87 231h1v1h-1zM88 231h1v1h-1zM90 231h1v1h-1z" fill="#e8c820" opacity="0.8"/>
<path d="M90 228h1v1h-1zM88 229h1v1h-1zM89 229h1v1h-1zM89 230h1v1h-1zM91 230h1v1h-1z" fill="#f07a20" opacity="0.8"/>
<line x1="105.4" y1="202.8" x2="105.4" y2="274" stroke="#dc9ddc" stroke-width="0.8"/>
<line x1="62.4" y1="246.9" x2="137" y2="246.9" stroke="#dc9ddc" stroke-width="0.8"/>
<rect x="62.4" y="202.8" width="74.6" height="71.2" fill="none" stroke="#a0a0a0" stroke-width="0.8"/>
<line x1="61.6" y1="203.8" x2="61.6" y2="273" stroke="#999" stroke-width="1.2" stroke-dasharray="0.6 1.6"/>
<line x1="85.4" y1="272.8" x2="114.4" y2="272.8" stroke="#8890c0" stroke-width="0.9"/>
<text x="63.8" y="213.6" font-size="10" text-anchor="start" fill="#222">74.3</text>
<text x="136.2" y="213.6" font-size="10" text-anchor="end" fill="#222">25</text>
<text x="63.8" y="272.6" font-size="10" text-anchor="start" fill="#222">0.59</text>
<text x="136.2" y="272.6" font-size="10" text-anchor="end" fill="#222">0.17</text>
<path d="M167 213h1v1h-1zM165 215h1v1h-1zM166 216h1v1h-1zM174 216h1v1h-1zM178 216h1v1h-1zM175 217h1v1h-1zM181 221h1v1h-1zM188 222h1v1h-1zM182 223h1v1h-1zM211 223h1v1h-1zM196 224h1v1h-1zM211 225h1v1h-1zM203 226h1v1h-1zM210 226h1v1h-1zM186 227h1v1h-1zM202 227h1v1h-1zM180 230h1v1h-1zM211 230h1v1h-1zM184 231h1v1h-1zM196 231h1v1h-1zM202 231h1v1h-1zM209 233h1v1h-1zM145 234h1v1h-1zM181 234h1v1h-1zM158 235h1v1h-1zM174 236h1v1h-1zM175 236h1v1h-1zM163 237h1v1h-1zM170 237h1v1h-1zM171 237h1v1h-1zM174 237h1v1h-1zM183 237h1v1h-1zM204 237h1v1h-1zM167 238h1v1h-1zM179 238h1v1h-1zM198 238h1v1h-1zM163 239h1v1h-1zM164 239h1v1h-1zM169 239h1v1h-1zM160 240h1v1h-1zM199 240h1v1h-1zM158 241h1v1h-1zM162 242h1v1h-1zM181 243h1v1h-1zM208 243h1v1h-1zM196 244h1v1h-1zM209 250h1v1h-1zM195 254h1v1h-1zM209 259h1v1h-1zM173 270h1v1h-1zM187 271h1v1h-1z" fill="#8890d8" opacity="0.8"/>
<path d="M147 217h1v1h-1zM151 217h1v1h-1zM152 217h1v1h-1zM158 217h1v1h-1zM159 217h1v1h-1zM168 217h1v1h-1zM169 217h1v1h-1zM171 217h1v1h-1zM172 217h1v1h-1zM174 217h1v1h-1zM144 218h1v1h-1zM146 218h1v1h-1zM148 218h1v1h-1zM149 218h1v1h-1zM153 218h1v1h-1zM154 218h1v1h-1zM156 218h1v1h-1zM162 218h1v1h-1zM167 218h1v1h-1zM169 218h1v1h-1zM173 218h1v1h-1zM176 218h1v1h-1zM143 219h1v1h-1zM145 219h1v1h-1zM146 219h1v1h-1zM149 219h1v1h-1zM151 219h1v1h-1zM153 219h1v1h-1zM154 219h1v1h-1zM155 219h1v1h-1zM156 219h1v1h-1zM157 219h1v1h-1zM158 219h1v1h-1zM159 219h1v1h-1zM160 219h1v1h-1zM163 219h1v1h-1zM164 219h1v1h-1zM165 219h1v1h-1zM166 219h1v1h-1zM169 219h1v1h-1zM170 219h1v1h-1zM173 219h1v1h-1zM174 219h1v1h-1zM175 219h1v1h-1zM176 219h1v1h-1zM144 220h1v1h-1zM145 220h1v1h-1zM146 220h1v1h-1zM147 220h1v1h-1zM148 220h1v1h-1zM150 220h1v1h-1zM151 220h1v1h-1zM152 220h1v1h-1zM153 220h1v1h-1zM155 220h1v1h-1zM156 220h1v1h-1zM157 220h1v1h-1zM158 220h1v1h-1zM159 220h1v1h-1zM160 220h1v1h-1zM161 220h1v1h-1zM162 220h1v1h-1zM163 220h1v1h-1zM164 220h1v1h-1zM165 220h1v1h-1zM166 220h1v1h-1zM167 220h1v1h-1zM168 220h1v1h-1zM169 220h1v1h-1zM170 220h1v1h-1zM171 220h1v1h-1zM172 220h1v1h-1zM174 220h1v1h-1zM175 220h1v1h-1zM176 220h1v1h-1zM177 220h1v1h-1zM178 220h1v1h-1zM144 221h1v1h-1zM145 221h1v1h-1zM146 221h1v1h-1zM147 221h1v1h-1zM148 221h1v1h-1zM149 221h1v1h-1zM150 221h1v1h-1zM151 221h1v1h-1zM152 221h1v1h-1zM153 221h1v1h-1zM155 221h1v1h-1zM156 221h1v1h-1zM173 221h1v1h-1zM174 221h1v1h-1zM175 221h1v1h-1zM176 221h1v1h-1zM178 221h1v1h-1zM143 222h1v1h-1zM144 222h1v1h-1zM145 222h1v1h-1zM148 222h1v1h-1zM175 222h1v1h-1zM176 222h1v1h-1zM179 222h1v1h-1zM143 223h1v1h-1zM176 223h1v1h-1zM177 223h1v1h-1zM181 223h1v1h-1zM177 224h1v1h-1zM178 224h1v1h-1zM179 224h1v1h-1zM177 225h1v1h-1zM179 225h1v1h-1zM181 225h1v1h-1zM176 226h1v1h-1zM177 226h1v1h-1zM178 226h1v1h-1zM179 226h1v1h-1zM182 226h1v1h-1zM143 227h1v1h-1zM176 227h1v1h-1zM178 227h1v1h-1zM181 227h1v1h-1zM143 228h1v1h-1zM144 228h1v1h-1zM146 228h1v1h-1zM150 228h1v1h-1zM175 228h1v1h-1zM176 228h1v1h-1zM177 228h1v1h-1zM144 229h1v1h-1zM145 229h1v1h-1zM146 229h1v1h-1zM147 229h1v1h-1zM148 229h1v1h-1zM149 229h1v1h-1zM150 229h1v1h-1zM151 229h1v1h-1zM152 229h1v1h-1zM153 229h1v1h-1zM154 229h1v1h-1zM155 229h1v1h-1zM156 229h1v1h-1zM157 229h1v1h-1zM173 229h1v1h-1zM174 229h1v1h-1zM175 229h1v1h-1zM176 229h1v1h-1zM143 230h1v1h-1zM145 230h1v1h-1zM147 230h1v1h-1zM148 230h1v1h-1zM149 230h1v1h-1zM151 230h1v1h-1zM152 230h1v1h-1zM154 230h1v1h-1zM155 230h1v1h-1zM156 230h1v1h-1zM157 230h1v1h-1zM158 230h1v1h-1zM159 230h1v1h-1zM160 230h1v1h-1zM161 230h1v1h-1zM162 230h1v1h-1zM163 230h1v1h-1zM164 230h1v1h-1zM165 230h1v1h-1zM166 230h1v1h-1zM167 230h1v1h-1zM168 230h1v1h-1zM169 230h1v1h-1zM170 230h1v1h-1zM171 230h1v1h-1zM172 230h1v1h-1zM173 230h1v1h-1zM174 230h1v1h-1zM175 230h1v1h-1zM177 230h1v1h-1zM143 231h1v1h-1zM146 231h1v1h-1zM148 231h1v1h-1zM150 231h1v1h-1zM152 231h1v1h-1zM153 231h1v1h-1zM154 231h1v1h-1zM155 231h1v1h-1zM158 231h1v1h-1zM159 231h1v1h-1zM160 231h1v1h-1zM161 231h1v1h-1zM162 231h1v1h-1zM163 231h1v1h-1zM164 231h1v1h-1zM165 231h1v1h-1zM167 231h1v1h-1zM168 231h1v1h-1zM169 231h1v1h-1zM170 231h1v1h-1zM172 231h1v1h-1zM173 231h1v1h-1zM174 231h1v1h-1zM175 231h1v1h-1zM176 231h1v1h-1zM179 231h1v1h-1zM143 232h1v1h-1zM150 232h1v1h-1zM152 232h1v1h-1zM154 232h1v1h-1zM157 232h1v1h-1zM159 232h1v1h-1zM161 232h1v1h-1zM162 232h1v1h-1zM163 232h1v1h-1zM165 232h1v1h-1zM166 232h1v1h-1zM167 232h1v1h-1zM169 232h1v1h-1zM170 232h1v1h-1zM171 232h1v1h-1zM172 232h1v1h-1zM145 233h1v1h-1zM148 233h1v1h-1zM150 233h1v1h-1zM156 233h1v1h-1zM160 233h1v1h-1zM162 233h1v1h-1zM166 233h1v1h-1zM167 233h1v1h-1zM168 233h1v1h-1zM169 233h1v1h-1zM171 233h1v1h-1zM173 233h1v1h-1zM157 234h1v1h-1zM160 234h1v1h-1zM161 234h1v1h-1zM165 234h1v1h-1zM167 234h1v1h-1zM169 234h1v1h-1zM171 234h1v1h-1zM161 235h1v1h-1zM172 235h1v1h-1zM165 236h1v1h-1zM166 236h1v1h-1zM170 236h1v1h-1zM168 237h1v1h-1z" fill="#3c4cd8" opacity="0.8"/>
<path d="M154 221h1v1h-1zM157 221h1v1h-1zM158 221h1v1h-1zM159 221h1v1h-1zM160 221h1v1h-1zM161 221h1v1h-1zM162 221h1v1h-1zM163 221h1v1h-1zM164 221h1v1h-1zM165 221h1v1h-1zM166 221h1v1h-1zM167 221h1v1h-1zM168 221h1v1h-1zM169 221h1v1h-1zM170 221h1v1h-1zM171 221h1v1h-1zM172 221h1v1h-1zM146 222h1v1h-1zM147 222h1v1h-1zM149 222h1v1h-1zM150 222h1v1h-1zM151 222h1v1h-1zM152 222h1v1h-1zM153 222h1v1h-1zM154 222h1v1h-1zM155 222h1v1h-1zM156 222h1v1h-1zM157 222h1v1h-1zM158 222h1v1h-1zM171 222h1v1h-1zM172 222h1v1h-1zM173 222h1v1h-1zM174 222h1v1h-1zM144 223h1v1h-1zM145 223h1v1h-1zM146 223h1v1h-1zM147 223h1v1h-1zM148 223h1v1h-1zM149 223h1v1h-1zM150 223h1v1h-1zM151 223h1v1h-1zM152 223h1v1h-1zM153 223h1v1h-1zM154 223h1v1h-1zM155 223h1v1h-1zM173 223h1v1h-1zM174 223h1v1h-1zM175 223h1v1h-1zM143 224h1v1h-1zM144 224h1v1h-1zM145 224h1v1h-1zM146 224h1v1h-1zM147 224h1v1h-1zM148 224h1v1h-1zM149 224h1v1h-1zM152 224h1v1h-1zM174 224h1v1h-1zM175 224h1v1h-1zM176 224h1v1h-1zM143 225h1v1h-1zM144 225h1v1h-1zM145 225h1v1h-1zM146 225h1v1h-1zM147 225h1v1h-1zM149 225h1v1h-1zM150 225h1v1h-1zM153 225h1v1h-1zM175 225h1v1h-1zM176 225h1v1h-1zM143 226h1v1h-1zM144 226h1v1h-1zM145 226h1v1h-1zM146 226h1v1h-1zM147 226h1v1h-1zM148 226h1v1h-1zM149 226h1v1h-1zM151 226h1v1h-1zM153 226h1v1h-1zM175 226h1v1h-1zM144 227h1v1h-1zM145 227h1v1h-1zM146 227h1v1h-1zM147 227h1v1h-1zM148 227h1v1h-1zM149 227h1v1h-1zM150 227h1v1h-1zM151 227h1v1h-1zM152 227h1v1h-1zM153 227h1v1h-1zM154 227h1v1h-1zM155 227h1v1h-1zM174 227h1v1h-1zM175 227h1v1h-1zM145 228h1v1h-1zM147 228h1v1h-1zM148 228h1v1h-1zM149 228h1v1h-1zM151 228h1v1h-1zM152 228h1v1h-1zM153 228h1v1h-1zM154 228h1v1h-1zM155 228h1v1h-1zM156 228h1v1h-1zM157 228h1v1h-1zM158 228h1v1h-1zM159 228h1v1h-1zM160 228h1v1h-1zM161 228h1v1h-1zM167 228h1v1h-1zM168 228h1v1h-1zM171 228h1v1h-1zM172 228h1v1h-1zM173 228h1v1h-1zM174 228h1v1h-1zM158 229h1v1h-1zM159 229h1v1h-1zM160 229h1v1h-1zM161 229h1v1h-1zM162 229h1v1h-1zM163 229h1v1h-1zM164 229h1v1h-1zM165 229h1v1h-1zM166 229h1v1h-1zM167 229h1v1h-1zM168 229h1v1h-1zM169 229h1v1h-1zM170 229h1v1h-1zM171 229h1v1h-1zM172 229h1v1h-1z" fill="#3a78d8" opacity="0.8"/>
<path d="M159 222h1v1h-1zM160 222h1v1h-1zM161 222h1v1h-1zM162 222h1v1h-1zM163 222h1v1h-1zM164 222h1v1h-1zM165 222h1v1h-1zM166 222h1v1h-1zM167 222h1v1h-1zM168 222h1v1h-1zM169 222h1v1h-1zM170 222h1v1h-1zM156 223h1v1h-1zM157 223h1v1h-1zM158 223h1v1h-1zM159 223h1v1h-1zM160 223h1v1h-1zM162 223h1v1h-1zM164 223h1v1h-1zM168 223h1v1h-1zM169 223h1v1h-1zM170 223h1v1h-1zM171 223h1v1h-1zM172 223h1v1h-1zM150 224h1v1h-1zM151 224h1v1h-1zM153 224h1v1h-1zM154 224h1v1h-1zM155 224h1v1h-1zM156 224h1v1h-1zM157 224h1v1h-1zM158 224h1v1h-1zM159 224h1v1h-1zM160 224h1v1h-1zM161 224h1v1h-1zM170 224h1v1h-1zM172 224h1v1h-1zM173 224h1v1h-1zM148 225h1v1h-1zM151 225h1v1h-1zM152 225h1v1h-1zM154 225h1v1h-1zM155 225h1v1h-1zM156 225h1v1h-1zM157 225h1v1h-1zM158 225h1v1h-1zM172 225h1v1h-1zM173 225h1v1h-1zM174 225h1v1h-1zM150 226h1v1h-1zM152 226h1v1h-1zM154 226h1v1h-1zM155 226h1v1h-1zM156 226h1v1h-1zM157 226h1v1h-1zM158 226h1v1h-1zM161 226h1v1h-1zM162 226h1v1h-1zM168 226h1v1h-1zM171 226h1v1h-1zM172 226h1v1h-1zM173 226h1v1h-1zM174 226h1v1h-1zM156 227h1v1h-1zM157 227h1v1h-1zM158 227h1v1h-1zM159 227h1v1h-1zM160 227h1v1h-1zM162 227h1v1h-1zM166 227h1v1h-1zM168 227h1v1h-1zM170 227h1v1h-1zM171 227h1v1h-1zM172 227h1v1h-1zM173 227h1v1h-1zM162 228h1v1h-1zM163 228h1v1h-1zM164 228h1v1h-1zM165 228h1v1h-1zM166 228h1v1h-1zM169 228h1v1h-1zM170 228h1v1h-1z" fill="#22a8b0" opacity="0.8"/>
<path d="M161 223h1v1h-1zM163 223h1v1h-1zM165 223h1v1h-1zM166 223h1v1h-1zM167 223h1v1h-1zM162 224h1v1h-1zM163 224h1v1h-1zM164 224h1v1h-1zM165 224h1v1h-1zM166 224h1v1h-1zM167 224h1v1h-1zM168 224h1v1h-1zM169 224h1v1h-1zM171 224h1v1h-1zM159 225h1v1h-1zM160 225h1v1h-1zM161 225h1v1h-1zM162 225h1v1h-1zM163 225h1v1h-1zM164 225h1v1h-1zM165 225h1v1h-1zM166 225h1v1h-1zM167 225h1v1h-1zM168 225h1v1h-1zM169 225h1v1h-1zM170 225h1v1h-1zM171 225h1v1h-1zM159 226h1v1h-1zM160 226h1v1h-1zM163 226h1v1h-1zM164 226h1v1h-1zM165 226h1v1h-1zM166 226h1v1h-1zM167 226h1v1h-1zM169 226h1v1h-1zM170 226h1v1h-1zM161 227h1v1h-1zM163 227h1v1h-1zM164 227h1v1h-1zM165 227h1v1h-1zM167 227h1v1h-1zM169 227h1v1h-1z" fill="#34c060" opacity="0.8"/>
<line x1="184.4" y1="202.8" x2="184.4" y2="273.6" stroke="#dc9ddc" stroke-width="0.8"/>
<line x1="141.3" y1="246.9" x2="216" y2="246.9" stroke="#dc9ddc" stroke-width="0.8"/>
<rect x="141.3" y="202.8" width="74.7" height="70.8" fill="none" stroke="#a0a0a0" stroke-width="0.8"/>
<line x1="140.5" y1="203.8" x2="140.5" y2="272.6" stroke="#999" stroke-width="1.2" stroke-dasharray="0.6 1.6"/>
<line x1="164.3" y1="272.4" x2="193.3" y2="272.4" stroke="#8890c0" stroke-width="0.9"/>
<text x="142.7" y="213.6" font-size="10" text-anchor="start" fill="#222">98.9</text>
<text x="215.2" y="213.6" font-size="10" text-anchor="end" fill="#222">0.83</text>
<text x="142.7" y="272.2" font-size="10" text-anchor="start" fill="#222">0.24</text>
<text x="215.2" y="272.2" font-size="10" text-anchor="end" fill="#222">0</text>
<path d="M109 282h1v1h-1zM109 283h1v1h-1zM106 286h1v1h-1zM93 287h1v1h-1zM93 288h1v1h-1zM109 290h1v1h-1zM112 290h1v1h-1zM114 291h1v1h-1zM118 291h1v1h-1zM125 291h1v1h-1zM131 291h1v1h-1zM64 292h1v1h-1zM65 292h1v1h-1zM67 292h1v1h-1zM64 294h1v1h-1zM64 295h1v1h-1zM66 295h1v1h-1zM64 301h1v1h-1zM65 319h1v1h-1zM65 320h1v1h-1zM64 324h1v1h-1zM69 325h1v1h-1zM71 325h1v1h-1zM72 325h1v1h-1zM75 326h1v1h-1zM70 327h1v1h-1zM71 327h1v1h-1zM80 327h1v1h-1zM64 328h1v1h-1zM67 328h1v1h-1zM75 328h1v1h-1zM118 328h1v1h-1zM120 328h1v1h-1zM121 328h1v1h-1zM131 328h1v1h-1zM133 328h1v1h-1zM134 328h1v1h-1zM135 328h1v1h-1zM75 329h1v1h-1zM106 329h1v1h-1zM108 329h1v1h-1zM111 329h1v1h-1zM113 329h1v1h-1zM118 329h1v1h-1zM119 329h1v1h-1zM65 330h1v1h-1zM75 330h1v1h-1zM76 330h1v1h-1zM108 330h1v1h-1zM109 330h1v1h-1zM118 330h1v1h-1zM126 330h1v1h-1zM127 330h1v1h-1zM69 331h1v1h-1zM74 332h1v1h-1zM104 332h1v1h-1zM105 332h1v1h-1zM108 332h1v1h-1zM114 332h1v1h-1zM71 333h1v1h-1zM74 333h1v1h-1zM84 333h1v1h-1zM120 333h1v1h-1zM121 333h1v1h-1zM132 333h1v1h-1zM103 334h1v1h-1zM104 334h1v1h-1zM114 334h1v1h-1zM83 335h1v1h-1zM104 335h1v1h-1zM82 336h1v1h-1zM108 336h1v1h-1zM122 337h1v1h-1zM101 338h1v1h-1zM102 338h1v1h-1zM105 338h1v1h-1zM110 338h1v1h-1zM102 339h1v1h-1zM103 339h1v1h-1zM109 339h1v1h-1zM67 340h1v1h-1zM105 340h1v1h-1zM117 340h1v1h-1zM128 340h1v1h-1zM132 340h1v1h-1zM112 342h1v1h-1zM105 343h1v1h-1zM107 343h1v1h-1zM86 344h1v1h-1zM88 344h1v1h-1zM89 346h1v1h-1zM92 346h1v1h-1zM100 346h1v1h-1zM103 346h1v1h-1zM104 346h1v1h-1zM88 347h1v1h-1zM102 347h1v1h-1zM103 348h1v1h-1zM106 348h1v1h-1zM114 348h1v1h-1zM89 349h1v1h-1zM95 349h1v1h-1z" fill="#8890d8" opacity="0.8"/>
<path d="M91 291h1v1h-1zM97 291h1v1h-1zM107 291h1v1h-1zM112 291h1v1h-1zM81 292h1v1h-1zM83 292h1v1h-1zM88 292h1v1h-1zM89 292h1v1h-1zM95 292h1v1h-1zM97 292h1v1h-1zM100 292h1v1h-1zM101 292h1v1h-1zM102 292h1v1h-1zM70 293h1v1h-1zM75 293h1v1h-1zM77 293h1v1h-1zM79 293h1v1h-1zM81 293h1v1h-1zM85 293h1v1h-1zM88 293h1v1h-1zM92 293h1v1h-1zM93 293h1v1h-1zM94 293h1v1h-1zM95 293h1v1h-1zM96 293h1v1h-1zM97 293h1v1h-1zM101 293h1v1h-1zM106 293h1v1h-1zM107 293h1v1h-1zM108 293h1v1h-1zM117 293h1v1h-1zM122 293h1v1h-1zM123 293h1v1h-1zM124 293h1v1h-1zM127 293h1v1h-1zM128 293h1v1h-1zM71 294h1v1h-1zM72 294h1v1h-1zM77 294h1v1h-1zM78 294h1v1h-1zM80 294h1v1h-1zM81 294h1v1h-1zM83 294h1v1h-1zM87 294h1v1h-1zM88 294h1v1h-1zM91 294h1v1h-1zM92 294h1v1h-1zM93 294h1v1h-1zM94 294h1v1h-1zM95 294h1v1h-1zM97 294h1v1h-1zM98 294h1v1h-1zM99 294h1v1h-1zM100 294h1v1h-1zM101 294h1v1h-1zM102 294h1v1h-1zM105 294h1v1h-1zM106 294h1v1h-1zM107 294h1v1h-1zM108 294h1v1h-1zM110 294h1v1h-1zM111 294h1v1h-1zM112 294h1v1h-1zM129 294h1v1h-1zM130 294h1v1h-1zM132 294h1v1h-1zM72 295h1v1h-1zM75 295h1v1h-1zM76 295h1v1h-1zM77 295h1v1h-1zM81 295h1v1h-1zM82 295h1v1h-1zM83 295h1v1h-1zM84 295h1v1h-1zM85 295h1v1h-1zM86 295h1v1h-1zM87 295h1v1h-1zM88 295h1v1h-1zM89 295h1v1h-1zM91 295h1v1h-1zM92 295h1v1h-1zM93 295h1v1h-1zM95 295h1v1h-1zM96 295h1v1h-1zM97 295h1v1h-1zM98 295h1v1h-1zM99 295h1v1h-1zM100 295h1v1h-1zM101 295h1v1h-1zM102 295h1v1h-1zM103 295h1v1h-1zM104 295h1v1h-1zM105 295h1v1h-1zM106 295h1v1h-1zM109 295h1v1h-1zM110 295h1v1h-1zM111 295h1v1h-1zM112 295h1v1h-1zM113 295h1v1h-1zM118 295h1v1h-1zM122 295h1v1h-1zM125 295h1v1h-1zM128 295h1v1h-1zM130 295h1v1h-1zM132 295h1v1h-1zM133 295h1v1h-1zM68 296h1v1h-1zM73 296h1v1h-1zM74 296h1v1h-1zM75 296h1v1h-1zM78 296h1v1h-1zM79 296h1v1h-1zM80 296h1v1h-1zM82 296h1v1h-1zM83 296h1v1h-1zM84 296h1v1h-1zM85 296h1v1h-1zM87 296h1v1h-1zM102 296h1v1h-1zM104 296h1v1h-1zM105 296h1v1h-1zM106 296h1v1h-1zM107 296h1v1h-1zM108 296h1v1h-1zM110 296h1v1h-1zM113 296h1v1h-1zM114 296h1v1h-1zM115 296h1v1h-1zM116 296h1v1h-1zM117 296h1v1h-1zM118 296h1v1h-1zM119 296h1v1h-1zM121 296h1v1h-1zM123 296h1v1h-1zM125 296h1v1h-1zM126 296h1v1h-1zM129 296h1v1h-1zM130 296h1v1h-1zM132 296h1v1h-1zM135 296h1v1h-1zM69 297h1v1h-1zM72 297h1v1h-1zM73 297h1v1h-1zM76 297h1v1h-1zM77 297h1v1h-1zM79 297h1v1h-1zM80 297h1v1h-1zM81 297h1v1h-1zM82 297h1v1h-1zM109 297h1v1h-1zM110 297h1v1h-1zM111 297h1v1h-1zM112 297h1v1h-1zM115 297h1v1h-1zM116 297h1v1h-1zM118 297h1v1h-1zM119 297h1v1h-1zM121 297h1v1h-1zM123 297h1v1h-1zM127 297h1v1h-1zM130 297h1v1h-1zM131 297h1v1h-1zM68 298h1v1h-1zM69 298h1v1h-1zM71 298h1v1h-1zM75 298h1v1h-1zM76 298h1v1h-1zM77 298h1v1h-1zM78 298h1v1h-1zM79 298h1v1h-1zM80 298h1v1h-1zM109 298h1v1h-1zM110 298h1v1h-1zM111 298h1v1h-1zM113 298h1v1h-1zM115 298h1v1h-1zM116 298h1v1h-1zM117 298h1v1h-1zM119 298h1v1h-1zM121 298h1v1h-1zM123 298h1v1h-1zM124 298h1v1h-1zM125 298h1v1h-1zM126 298h1v1h-1zM128 298h1v1h-1zM129 298h1v1h-1zM130 298h1v1h-1zM133 298h1v1h-1zM69 299h1v1h-1zM71 299h1v1h-1zM72 299h1v1h-1zM73 299h1v1h-1zM74 299h1v1h-1zM76 299h1v1h-1zM77 299h1v1h-1zM78 299h1v1h-1zM79 299h1v1h-1zM110 299h1v1h-1zM111 299h1v1h-1zM112 299h1v1h-1zM113 299h1v1h-1zM114 299h1v1h-1zM115 299h1v1h-1zM116 299h1v1h-1zM117 299h1v1h-1zM118 299h1v1h-1zM119 299h1v1h-1zM121 299h1v1h-1zM122 299h1v1h-1zM124 299h1v1h-1zM125 299h1v1h-1zM126 299h1v1h-1zM127 299h1v1h-1zM132 299h1v1h-1zM71 300h1v1h-1zM75 300h1v1h-1zM76 300h1v1h-1zM77 300h1v1h-1zM78 300h1v1h-1zM79 300h1v1h-1zM81 300h1v1h-1zM112 300h1v1h-1zM113 300h1v1h-1zM114 300h1v1h-1zM115 300h1v1h-1zM116 300h1v1h-1zM117 300h1v1h-1zM119 300h1v1h-1zM120 300h1v1h-1zM122 300h1v1h-1zM123 300h1v1h-1zM124 300h1v1h-1zM125 300h1v1h-1zM126 300h1v1h-1zM128 300h1v1h-1zM130 300h1v1h-1zM133 300h1v1h-1zM66 301h1v1h-1zM71 301h1v1h-1zM72 301h1v1h-1zM74 301h1v1h-1zM75 301h1v1h-1zM76 301h1v1h-1zM77 301h1v1h-1zM78 301h1v1h-1zM79 301h1v1h-1zM112 301h1v1h-1zM113 301h1v1h-1zM114 301h1v1h-1zM115 301h1v1h-1zM116 301h1v1h-1zM117 301h1v1h-1zM119 301h1v1h-1zM120 301h1v1h-1zM121 301h1v1h-1zM122 301h1v1h-1zM123 301h1v1h-1zM125 301h1v1h-1zM126 301h1v1h-1zM127 301h1v1h-1zM128 301h1v1h-1zM129 301h1v1h-1zM130 301h1v1h-1zM131 301h1v1h-1zM132 301h1v1h-1zM134 301h1v1h-1zM66 302h1v1h-1zM67 302h1v1h-1zM68 302h1v1h-1zM71 302h1v1h-1zM73 302h1v1h-1zM74 302h1v1h-1zM77 302h1v1h-1zM78 302h1v1h-1zM79 302h1v1h-1zM80 302h1v1h-1zM81 302h1v1h-1zM112 302h1v1h-1zM114 302h1v1h-1zM115 302h1v1h-1zM116 302h1v1h-1zM117 302h1v1h-1zM118 302h1v1h-1zM119 302h1v1h-1zM120 302h1v1h-1zM121 302h1v1h-1zM122 302h1v1h-1zM123 302h1v1h-1zM124 302h1v1h-1zM125 302h1v1h-1zM126 302h1v1h-1zM127 302h1v1h-1zM128 302h1v1h-1zM129 302h1v1h-1zM130 302h1v1h-1zM132 302h1v1h-1zM134 302h1v1h-1zM135 302h1v1h-1zM71 303h1v1h-1zM73 303h1v1h-1zM74 303h1v1h-1zM75 303h1v1h-1zM76 303h1v1h-1zM77 303h1v1h-1zM78 303h1v1h-1zM79 303h1v1h-1zM80 303h1v1h-1zM112 303h1v1h-1zM113 303h1v1h-1zM114 303h1v1h-1zM115 303h1v1h-1zM116 303h1v1h-1zM117 303h1v1h-1zM118 303h1v1h-1zM119 303h1v1h-1zM120 303h1v1h-1zM121 303h1v1h-1zM122 303h1v1h-1zM123 303h1v1h-1zM125 303h1v1h-1zM126 303h1v1h-1zM127 303h1v1h-1zM128 303h1v1h-1zM129 303h1v1h-1zM130 303h1v1h-1zM131 303h1v1h-1zM132 303h1v1h-1zM133 303h1v1h-1zM134 303h1v1h-1zM135 303h1v1h-1zM64 304h1v1h-1zM68 304h1v1h-1zM71 304h1v1h-1zM72 304h1v1h-1zM74 304h1v1h-1zM76 304h1v1h-1zM77 304h1v1h-1zM79 304h1v1h-1zM80 304h1v1h-1zM114 304h1v1h-1zM116 304h1v1h-1zM117 304h1v1h-1zM118 304h1v1h-1zM119 304h1v1h-1zM120 304h1v1h-1zM121 304h1v1h-1zM122 304h1v1h-1zM123 304h1v1h-1zM124 304h1v1h-1zM125 304h1v1h-1zM126 304h1v1h-1zM127 304h1v1h-1zM128 304h1v1h-1zM129 304h1v1h-1zM130 304h1v1h-1zM131 304h1v1h-1zM132 304h1v1h-1zM133 304h1v1h-1zM134 304h1v1h-1zM135 304h1v1h-1zM65 305h1v1h-1zM67 305h1v1h-1zM75 305h1v1h-1zM76 305h1v1h-1zM77 305h1v1h-1zM78 305h1v1h-1zM79 305h1v1h-1zM80 305h1v1h-1zM81 305h1v1h-1zM116 305h1v1h-1zM117 305h1v1h-1zM119 305h1v1h-1zM120 305h1v1h-1zM121 305h1v1h-1zM122 305h1v1h-1zM123 305h1v1h-1zM124 305h1v1h-1zM125 305h1v1h-1zM126 305h1v1h-1zM127 305h1v1h-1zM128 305h1v1h-1zM129 305h1v1h-1zM130 305h1v1h-1zM131 305h1v1h-1zM132 305h1v1h-1zM133 305h1v1h-1zM134 305h1v1h-1zM67 306h1v1h-1zM68 306h1v1h-1zM70 306h1v1h-1zM73 306h1v1h-1zM76 306h1v1h-1zM78 306h1v1h-1zM79 306h1v1h-1zM80 306h1v1h-1zM81 306h1v1h-1zM115 306h1v1h-1zM117 306h1v1h-1zM119 306h1v1h-1zM120 306h1v1h-1zM121 306h1v1h-1zM122 306h1v1h-1zM123 306h1v1h-1zM124 306h1v1h-1zM125 306h1v1h-1zM126 306h1v1h-1zM127 306h1v1h-1zM128 306h1v1h-1zM129 306h1v1h-1zM130 306h1v1h-1zM131 306h1v1h-1zM132 306h1v1h-1zM133 306h1v1h-1zM134 306h1v1h-1zM135 306h1v1h-1zM68 307h1v1h-1zM70 307h1v1h-1zM72 307h1v1h-1zM74 307h1v1h-1zM76 307h1v1h-1zM78 307h1v1h-1zM79 307h1v1h-1zM80 307h1v1h-1zM81 307h1v1h-1zM82 307h1v1h-1zM122 307h1v1h-1zM123 307h1v1h-1zM124 307h1v1h-1zM125 307h1v1h-1zM126 307h1v1h-1zM128 307h1v1h-1zM129 307h1v1h-1zM130 307h1v1h-1zM132 307h1v1h-1zM133 307h1v1h-1zM134 307h1v1h-1zM135 307h1v1h-1zM66 308h1v1h-1zM68 308h1v1h-1zM70 308h1v1h-1zM71 308h1v1h-1zM75 308h1v1h-1zM78 308h1v1h-1zM79 308h1v1h-1zM80 308h1v1h-1zM81 308h1v1h-1zM121 308h1v1h-1zM122 308h1v1h-1zM123 308h1v1h-1zM124 308h1v1h-1zM129 308h1v1h-1zM130 308h1v1h-1zM132 308h1v1h-1zM133 308h1v1h-1zM134 308h1v1h-1zM135 308h1v1h-1zM66 309h1v1h-1zM67 309h1v1h-1zM69 309h1v1h-1zM70 309h1v1h-1zM71 309h1v1h-1zM76 309h1v1h-1zM77 309h1v1h-1zM78 309h1v1h-1zM79 309h1v1h-1zM80 309h1v1h-1zM81 309h1v1h-1zM122 309h1v1h-1zM126 309h1v1h-1zM129 309h1v1h-1zM131 309h1v1h-1zM133 309h1v1h-1zM134 309h1v1h-1zM135 309h1v1h-1zM64 310h1v1h-1zM65 310h1v1h-1zM68 310h1v1h-1zM69 310h1v1h-1zM72 310h1v1h-1zM73 310h1v1h-1zM74 310h1v1h-1zM75 310h1v1h-1zM77 310h1v1h-1zM78 310h1v1h-1zM80 310h1v1h-1zM81 310h1v1h-1zM82 310h1v1h-1zM119 310h1v1h-1zM123 310h1v1h-1zM124 310h1v1h-1zM125 310h1v1h-1zM130 310h1v1h-1zM133 310h1v1h-1zM134 310h1v1h-1zM66 311h1v1h-1zM74 311h1v1h-1zM75 311h1v1h-1zM77 311h1v1h-1zM79 311h1v1h-1zM80 311h1v1h-1zM81 311h1v1h-1zM82 311h1v1h-1zM127 311h1v1h-1zM128 311h1v1h-1zM130 311h1v1h-1zM131 311h1v1h-1zM132 311h1v1h-1zM133 311h1v1h-1zM134 311h1v1h-1zM135 311h1v1h-1zM68 312h1v1h-1zM70 312h1v1h-1zM73 312h1v1h-1zM75 312h1v1h-1zM77 312h1v1h-1zM78 312h1v1h-1zM80 312h1v1h-1zM81 312h1v1h-1zM82 312h1v1h-1zM83 312h1v1h-1zM114 312h1v1h-1zM117 312h1v1h-1zM118 312h1v1h-1zM120 312h1v1h-1zM125 312h1v1h-1zM126 312h1v1h-1zM130 312h1v1h-1zM131 312h1v1h-1zM132 312h1v1h-1zM133 312h1v1h-1zM134 312h1v1h-1zM64 313h1v1h-1zM66 313h1v1h-1zM73 313h1v1h-1zM78 313h1v1h-1zM79 313h1v1h-1zM81 313h1v1h-1zM82 313h1v1h-1zM83 313h1v1h-1zM113 313h1v1h-1zM117 313h1v1h-1zM118 313h1v1h-1zM119 313h1v1h-1zM120 313h1v1h-1zM121 313h1v1h-1zM122 313h1v1h-1zM125 313h1v1h-1zM126 313h1v1h-1zM127 313h1v1h-1zM130 313h1v1h-1zM132 313h1v1h-1zM133 313h1v1h-1zM134 313h1v1h-1zM135 313h1v1h-1zM64 314h1v1h-1zM75 314h1v1h-1zM76 314h1v1h-1zM77 314h1v1h-1zM78 314h1v1h-1zM79 314h1v1h-1zM80 314h1v1h-1zM81 314h1v1h-1zM82 314h1v1h-1zM83 314h1v1h-1zM112 314h1v1h-1zM114 314h1v1h-1zM115 314h1v1h-1zM117 314h1v1h-1zM118 314h1v1h-1zM119 314h1v1h-1zM120 314h1v1h-1zM121 314h1v1h-1zM122 314h1v1h-1zM126 314h1v1h-1zM127 314h1v1h-1zM128 314h1v1h-1zM129 314h1v1h-1zM130 314h1v1h-1zM131 314h1v1h-1zM132 314h1v1h-1zM133 314h1v1h-1zM134 314h1v1h-1zM135 314h1v1h-1zM69 315h1v1h-1zM72 315h1v1h-1zM75 315h1v1h-1zM76 315h1v1h-1zM79 315h1v1h-1zM80 315h1v1h-1zM81 315h1v1h-1zM82 315h1v1h-1zM83 315h1v1h-1zM84 315h1v1h-1zM111 315h1v1h-1zM112 315h1v1h-1zM113 315h1v1h-1zM115 315h1v1h-1zM116 315h1v1h-1zM117 315h1v1h-1zM118 315h1v1h-1zM119 315h1v1h-1zM120 315h1v1h-1zM121 315h1v1h-1zM122 315h1v1h-1zM123 315h1v1h-1zM124 315h1v1h-1zM125 315h1v1h-1zM126 315h1v1h-1zM127 315h1v1h-1zM128 315h1v1h-1zM129 315h1v1h-1zM130 315h1v1h-1zM131 315h1v1h-1zM132 315h1v1h-1zM133 315h1v1h-1zM134 315h1v1h-1zM135 315h1v1h-1zM69 316h1v1h-1zM70 316h1v1h-1zM71 316h1v1h-1zM76 316h1v1h-1zM77 316h1v1h-1zM78 316h1v1h-1zM79 316h1v1h-1zM83 316h1v1h-1zM110 316h1v1h-1zM111 316h1v1h-1zM112 316h1v1h-1zM113 316h1v1h-1zM114 316h1v1h-1zM115 316h1v1h-1zM116 316h1v1h-1zM117 316h1v1h-1zM118 316h1v1h-1zM119 316h1v1h-1zM120 316h1v1h-1zM121 316h1v1h-1zM122 316h1v1h-1zM123 316h1v1h-1zM124 316h1v1h-1zM125 316h1v1h-1zM126 316h1v1h-1zM127 316h1v1h-1zM128 316h1v1h-1zM129 316h1v1h-1zM130 316h1v1h-1zM131 316h1v1h-1zM132 316h1v1h-1zM133 316h1v1h-1zM134 316h1v1h-1zM135 316h1v1h-1zM73 317h1v1h-1zM77 317h1v1h-1zM80 317h1v1h-1zM82 317h1v1h-1zM83 317h1v1h-1zM84 317h1v1h-1zM107 317h1v1h-1zM109 317h1v1h-1zM110 317h1v1h-1zM111 317h1v1h-1zM112 317h1v1h-1zM113 317h1v1h-1zM114 317h1v1h-1zM115 317h1v1h-1zM116 317h1v1h-1zM117 317h1v1h-1zM118 317h1v1h-1zM119 317h1v1h-1zM120 317h1v1h-1zM121 317h1v1h-1zM122 317h1v1h-1zM123 317h1v1h-1zM125 317h1v1h-1zM126 317h1v1h-1zM127 317h1v1h-1zM128 317h1v1h-1zM129 317h1v1h-1zM130 317h1v1h-1zM131 317h1v1h-1zM132 317h1v1h-1zM133 317h1v1h-1zM134 317h1v1h-1zM135 317h1v1h-1zM67 318h1v1h-1zM71 318h1v1h-1zM76 318h1v1h-1zM77 318h1v1h-1zM81 318h1v1h-1zM82 318h1v1h-1zM83 318h1v1h-1zM84 318h1v1h-1zM105 318h1v1h-1zM107 318h1v1h-1zM108 318h1v1h-1zM109 318h1v1h-1zM110 318h1v1h-1zM111 318h1v1h-1zM112 318h1v1h-1zM113 318h1v1h-1zM116 318h1v1h-1zM117 318h1v1h-1zM118 318h1v1h-1zM119 318h1v1h-1zM120 318h1v1h-1zM121 318h1v1h-1zM122 318h1v1h-1zM123 318h1v1h-1zM124 318h1v1h-1zM125 318h1v1h-1zM126 318h1v1h-1zM127 318h1v1h-1zM128 318h1v1h-1zM129 318h1v1h-1zM130 318h1v1h-1zM131 318h1v1h-1zM132 318h1v1h-1zM71 319h1v1h-1zM74 319h1v1h-1zM75 319h1v1h-1zM78 319h1v1h-1zM80 319h1v1h-1zM82 319h1v1h-1zM84 319h1v1h-1zM105 319h1v1h-1zM106 319h1v1h-1zM107 319h1v1h-1zM108 319h1v1h-1zM109 319h1v1h-1zM110 319h1v1h-1zM111 319h1v1h-1zM112 319h1v1h-1zM113 319h1v1h-1zM114 319h1v1h-1zM115 319h1v1h-1zM116 319h1v1h-1zM118 319h1v1h-1zM119 319h1v1h-1zM121 319h1v1h-1zM122 319h1v1h-1zM123 319h1v1h-1zM126 319h1v1h-1zM127 319h1v1h-1zM129 319h1v1h-1zM130 319h1v1h-1zM132 319h1v1h-1zM133 319h1v1h-1zM134 319h1v1h-1zM67 320h1v1h-1zM76 320h1v1h-1zM78 320h1v1h-1zM79 320h1v1h-1zM80 320h1v1h-1zM81 320h1v1h-1zM83 320h1v1h-1zM84 320h1v1h-1zM85 320h1v1h-1zM104 320h1v1h-1zM105 320h1v1h-1zM106 320h1v1h-1zM107 320h1v1h-1zM109 320h1v1h-1zM110 320h1v1h-1zM111 320h1v1h-1zM112 320h1v1h-1zM113 320h1v1h-1zM114 320h1v1h-1zM115 320h1v1h-1zM116 320h1v1h-1zM117 320h1v1h-1zM118 320h1v1h-1zM119 320h1v1h-1zM120 320h1v1h-1zM122 320h1v1h-1zM123 320h1v1h-1zM124 320h1v1h-1zM125 320h1v1h-1zM126 320h1v1h-1zM128 320h1v1h-1zM129 320h1v1h-1zM132 320h1v1h-1zM133 320h1v1h-1zM134 320h1v1h-1zM67 321h1v1h-1zM72 321h1v1h-1zM81 321h1v1h-1zM83 321h1v1h-1zM85 321h1v1h-1zM103 321h1v1h-1zM104 321h1v1h-1zM105 321h1v1h-1zM106 321h1v1h-1zM107 321h1v1h-1zM108 321h1v1h-1zM112 321h1v1h-1zM113 321h1v1h-1zM114 321h1v1h-1zM115 321h1v1h-1zM116 321h1v1h-1zM117 321h1v1h-1zM118 321h1v1h-1zM120 321h1v1h-1zM123 321h1v1h-1zM127 321h1v1h-1zM128 321h1v1h-1zM130 321h1v1h-1zM131 321h1v1h-1zM132 321h1v1h-1zM133 321h1v1h-1zM134 321h1v1h-1zM135 321h1v1h-1zM68 322h1v1h-1zM69 322h1v1h-1zM78 322h1v1h-1zM80 322h1v1h-1zM81 322h1v1h-1zM82 322h1v1h-1zM83 322h1v1h-1zM84 322h1v1h-1zM85 322h1v1h-1zM86 322h1v1h-1zM102 322h1v1h-1zM103 322h1v1h-1zM104 322h1v1h-1zM105 322h1v1h-1zM106 322h1v1h-1zM108 322h1v1h-1zM109 322h1v1h-1zM111 322h1v1h-1zM112 322h1v1h-1zM113 322h1v1h-1zM114 322h1v1h-1zM115 322h1v1h-1zM117 322h1v1h-1zM123 322h1v1h-1zM126 322h1v1h-1zM127 322h1v1h-1zM132 322h1v1h-1zM80 323h1v1h-1zM81 323h1v1h-1zM82 323h1v1h-1zM83 323h1v1h-1zM85 323h1v1h-1zM86 323h1v1h-1zM101 323h1v1h-1zM102 323h1v1h-1zM103 323h1v1h-1zM106 323h1v1h-1zM109 323h1v1h-1zM110 323h1v1h-1zM111 323h1v1h-1zM113 323h1v1h-1zM115 323h1v1h-1zM120 323h1v1h-1zM121 323h1v1h-1zM123 323h1v1h-1zM124 323h1v1h-1zM126 323h1v1h-1zM127 323h1v1h-1zM133 323h1v1h-1zM79 324h1v1h-1zM83 324h1v1h-1zM84 324h1v1h-1zM85 324h1v1h-1zM86 324h1v1h-1zM101 324h1v1h-1zM102 324h1v1h-1zM103 324h1v1h-1zM104 324h1v1h-1zM105 324h1v1h-1zM106 324h1v1h-1zM107 324h1v1h-1zM108 324h1v1h-1zM110 324h1v1h-1zM111 324h1v1h-1zM115 324h1v1h-1zM116 324h1v1h-1zM117 324h1v1h-1zM118 324h1v1h-1zM120 324h1v1h-1zM122 324h1v1h-1zM123 324h1v1h-1zM125 324h1v1h-1zM129 324h1v1h-1zM132 324h1v1h-1zM133 324h1v1h-1zM77 325h1v1h-1zM81 325h1v1h-1zM86 325h1v1h-1zM100 325h1v1h-1zM101 325h1v1h-1zM102 325h1v1h-1zM103 325h1v1h-1zM104 325h1v1h-1zM105 325h1v1h-1zM110 325h1v1h-1zM111 325h1v1h-1zM117 325h1v1h-1zM120 325h1v1h-1zM125 325h1v1h-1zM128 325h1v1h-1zM130 325h1v1h-1zM79 326h1v1h-1zM83 326h1v1h-1zM84 326h1v1h-1zM86 326h1v1h-1zM87 326h1v1h-1zM101 326h1v1h-1zM103 326h1v1h-1zM105 326h1v1h-1zM114 326h1v1h-1zM122 326h1v1h-1zM124 326h1v1h-1zM126 326h1v1h-1zM132 326h1v1h-1zM135 326h1v1h-1zM81 327h1v1h-1zM82 327h1v1h-1zM84 327h1v1h-1zM86 327h1v1h-1zM87 327h1v1h-1zM102 327h1v1h-1zM106 327h1v1h-1zM108 327h1v1h-1zM109 327h1v1h-1zM110 327h1v1h-1zM119 327h1v1h-1zM122 327h1v1h-1zM123 327h1v1h-1zM128 327h1v1h-1zM83 328h1v1h-1zM87 328h1v1h-1zM88 328h1v1h-1zM100 328h1v1h-1zM101 328h1v1h-1zM104 328h1v1h-1zM83 329h1v1h-1zM84 329h1v1h-1zM85 329h1v1h-1zM86 329h1v1h-1zM87 329h1v1h-1zM88 329h1v1h-1zM99 329h1v1h-1zM100 329h1v1h-1zM101 329h1v1h-1zM102 329h1v1h-1zM103 329h1v1h-1zM85 330h1v1h-1zM86 330h1v1h-1zM88 330h1v1h-1zM99 330h1v1h-1zM100 330h1v1h-1zM102 330h1v1h-1zM84 331h1v1h-1zM85 331h1v1h-1zM87 331h1v1h-1zM88 331h1v1h-1zM99 331h1v1h-1zM101 331h1v1h-1zM102 331h1v1h-1zM85 332h1v1h-1zM86 332h1v1h-1zM87 332h1v1h-1zM88 332h1v1h-1zM98 332h1v1h-1zM99 332h1v1h-1zM102 332h1v1h-1zM87 333h1v1h-1zM88 333h1v1h-1zM89 333h1v1h-1zM98 333h1v1h-1zM99 333h1v1h-1zM101 333h1v1h-1zM87 334h1v1h-1zM88 334h1v1h-1zM89 334h1v1h-1zM98 334h1v1h-1zM99 334h1v1h-1zM100 334h1v1h-1zM89 335h1v1h-1zM98 335h1v1h-1zM89 336h1v1h-1zM90 336h1v1h-1zM97 336h1v1h-1zM98 336h1v1h-1zM100 336h1v1h-1zM88 337h1v1h-1zM90 337h1v1h-1zM97 337h1v1h-1zM90 338h1v1h-1zM91 338h1v1h-1zM96 338h1v1h-1zM97 338h1v1h-1zM98 338h1v1h-1zM99 338h1v1h-1zM90 339h1v1h-1zM91 339h1v1h-1zM92 339h1v1h-1zM93 339h1v1h-1zM94 339h1v1h-1zM95 339h1v1h-1zM96 339h1v1h-1zM98 339h1v1h-1zM89 340h1v1h-1zM90 340h1v1h-1zM92 340h1v1h-1zM93 340h1v1h-1zM94 340h1v1h-1zM95 340h1v1h-1zM96 340h1v1h-1zM97 340h1v1h-1zM102 340h1v1h-1zM90 341h1v1h-1zM92 341h1v1h-1zM94 341h1v1h-1zM95 341h1v1h-1zM97 341h1v1h-1zM100 341h1v1h-1zM101 341h1v1h-1zM98 342h1v1h-1zM100 342h1v1h-1zM91 343h1v1h-1zM93 343h1v1h-1zM96 343h1v1h-1zM98 343h1v1h-1zM95 344h1v1h-1zM98 344h1v1h-1zM90 345h1v1h-1zM94 345h1v1h-1zM95 345h1v1h-1zM98 346h1v1h-1z" fill="#3c4cd8" opacity="0.8"/>
<path d="M90 295h1v1h-1zM94 295h1v1h-1zM86 296h1v1h-1zM88 296h1v1h-1zM89 296h1v1h-1zM90 296h1v1h-1zM91 296h1v1h-1zM92 296h1v1h-1zM93 296h1v1h-1zM94 296h1v1h-1zM96 296h1v1h-1zM97 296h1v1h-1zM98 296h1v1h-1zM99 296h1v1h-1zM100 296h1v1h-1zM101 296h1v1h-1zM103 296h1v1h-1zM83 297h1v1h-1zM84 297h1v1h-1zM85 297h1v1h-1zM86 297h1v1h-1zM87 297h1v1h-1zM88 297h1v1h-1zM90 297h1v1h-1zM100 297h1v1h-1zM101 297h1v1h-1zM102 297h1v1h-1zM103 297h1v1h-1zM104 297h1v1h-1zM105 297h1v1h-1zM106 297h1v1h-1zM107 297h1v1h-1zM108 297h1v1h-1zM81 298h1v1h-1zM82 298h1v1h-1zM83 298h1v1h-1zM84 298h1v1h-1zM85 298h1v1h-1zM87 298h1v1h-1zM105 298h1v1h-1zM106 298h1v1h-1zM107 298h1v1h-1zM108 298h1v1h-1zM80 299h1v1h-1zM81 299h1v1h-1zM82 299h1v1h-1zM83 299h1v1h-1zM84 299h1v1h-1zM103 299h1v1h-1zM105 299h1v1h-1zM107 299h1v1h-1zM108 299h1v1h-1zM109 299h1v1h-1zM80 300h1v1h-1zM82 300h1v1h-1zM83 300h1v1h-1zM85 300h1v1h-1zM106 300h1v1h-1zM107 300h1v1h-1zM108 300h1v1h-1zM109 300h1v1h-1zM110 300h1v1h-1zM111 300h1v1h-1zM80 301h1v1h-1zM81 301h1v1h-1zM82 301h1v1h-1zM83 301h1v1h-1zM84 301h1v1h-1zM107 301h1v1h-1zM108 301h1v1h-1zM109 301h1v1h-1zM110 301h1v1h-1zM111 301h1v1h-1zM82 302h1v1h-1zM83 302h1v1h-1zM84 302h1v1h-1zM109 302h1v1h-1zM110 302h1v1h-1zM111 302h1v1h-1zM113 302h1v1h-1zM81 303h1v1h-1zM82 303h1v1h-1zM83 303h1v1h-1zM84 303h1v1h-1zM85 303h1v1h-1zM109 303h1v1h-1zM110 303h1v1h-1zM111 303h1v1h-1zM81 304h1v1h-1zM82 304h1v1h-1zM83 304h1v1h-1zM84 304h1v1h-1zM108 304h1v1h-1zM109 304h1v1h-1zM110 304h1v1h-1zM111 304h1v1h-1zM112 304h1v1h-1zM113 304h1v1h-1zM115 304h1v1h-1zM82 305h1v1h-1zM83 305h1v1h-1zM84 305h1v1h-1zM85 305h1v1h-1zM110 305h1v1h-1zM111 305h1v1h-1zM112 305h1v1h-1zM113 305h1v1h-1zM114 305h1v1h-1zM115 305h1v1h-1zM118 305h1v1h-1zM82 306h1v1h-1zM83 306h1v1h-1zM84 306h1v1h-1zM107 306h1v1h-1zM108 306h1v1h-1zM110 306h1v1h-1zM111 306h1v1h-1zM112 306h1v1h-1zM113 306h1v1h-1zM114 306h1v1h-1zM116 306h1v1h-1zM118 306h1v1h-1zM83 307h1v1h-1zM84 307h1v1h-1zM110 307h1v1h-1zM111 307h1v1h-1zM112 307h1v1h-1zM113 307h1v1h-1zM114 307h1v1h-1zM115 307h1v1h-1zM116 307h1v1h-1zM117 307h1v1h-1zM118 307h1v1h-1zM119 307h1v1h-1zM120 307h1v1h-1zM121 307h1v1h-1zM127 307h1v1h-1zM131 307h1v1h-1zM82 308h1v1h-1zM83 308h1v1h-1zM84 308h1v1h-1zM85 308h1v1h-1zM110 308h1v1h-1zM111 308h1v1h-1zM112 308h1v1h-1zM113 308h1v1h-1zM114 308h1v1h-1zM115 308h1v1h-1zM116 308h1v1h-1zM117 308h1v1h-1zM118 308h1v1h-1zM119 308h1v1h-1zM120 308h1v1h-1zM125 308h1v1h-1zM126 308h1v1h-1zM127 308h1v1h-1zM128 308h1v1h-1zM131 308h1v1h-1zM82 309h1v1h-1zM83 309h1v1h-1zM84 309h1v1h-1zM85 309h1v1h-1zM109 309h1v1h-1zM110 309h1v1h-1zM111 309h1v1h-1zM112 309h1v1h-1zM113 309h1v1h-1zM114 309h1v1h-1zM115 309h1v1h-1zM116 309h1v1h-1zM117 309h1v1h-1zM118 309h1v1h-1zM119 309h1v1h-1zM120 309h1v1h-1zM121 309h1v1h-1zM123 309h1v1h-1zM124 309h1v1h-1zM125 309h1v1h-1zM127 309h1v1h-1zM128 309h1v1h-1zM130 309h1v1h-1zM132 309h1v1h-1zM83 310h1v1h-1zM84 310h1v1h-1zM85 310h1v1h-1zM86 310h1v1h-1zM107 310h1v1h-1zM109 310h1v1h-1zM110 310h1v1h-1zM111 310h1v1h-1zM112 310h1v1h-1zM113 310h1v1h-1zM114 310h1v1h-1zM115 310h1v1h-1zM116 310h1v1h-1zM117 310h1v1h-1zM118 310h1v1h-1zM120 310h1v1h-1zM121 310h1v1h-1zM122 310h1v1h-1zM126 310h1v1h-1zM127 310h1v1h-1zM128 310h1v1h-1zM129 310h1v1h-1zM131 310h1v1h-1zM132 310h1v1h-1zM83 311h1v1h-1zM84 311h1v1h-1zM85 311h1v1h-1zM107 311h1v1h-1zM108 311h1v1h-1zM109 311h1v1h-1zM110 311h1v1h-1zM111 311h1v1h-1zM112 311h1v1h-1zM113 311h1v1h-1zM114 311h1v1h-1zM115 311h1v1h-1zM116 311h1v1h-1zM117 311h1v1h-1zM118 311h1v1h-1zM119 311h1v1h-1zM120 311h1v1h-1zM121 311h1v1h-1zM122 311h1v1h-1zM123 311h1v1h-1zM124 311h1v1h-1zM125 311h1v1h-1zM126 311h1v1h-1zM129 311h1v1h-1zM84 312h1v1h-1zM85 312h1v1h-1zM86 312h1v1h-1zM106 312h1v1h-1zM108 312h1v1h-1zM109 312h1v1h-1zM110 312h1v1h-1zM111 312h1v1h-1zM112 312h1v1h-1zM113 312h1v1h-1zM115 312h1v1h-1zM116 312h1v1h-1zM119 312h1v1h-1zM121 312h1v1h-1zM122 312h1v1h-1zM123 312h1v1h-1zM124 312h1v1h-1zM127 312h1v1h-1zM128 312h1v1h-1zM129 312h1v1h-1zM84 313h1v1h-1zM85 313h1v1h-1zM106 313h1v1h-1zM107 313h1v1h-1zM108 313h1v1h-1zM109 313h1v1h-1zM110 313h1v1h-1zM111 313h1v1h-1zM112 313h1v1h-1zM114 313h1v1h-1zM115 313h1v1h-1zM116 313h1v1h-1zM123 313h1v1h-1zM124 313h1v1h-1zM128 313h1v1h-1zM129 313h1v1h-1zM131 313h1v1h-1zM84 314h1v1h-1zM85 314h1v1h-1zM86 314h1v1h-1zM106 314h1v1h-1zM107 314h1v1h-1zM108 314h1v1h-1zM109 314h1v1h-1zM110 314h1v1h-1zM111 314h1v1h-1zM113 314h1v1h-1zM116 314h1v1h-1zM123 314h1v1h-1zM124 314h1v1h-1zM125 314h1v1h-1zM85 315h1v1h-1zM86 315h1v1h-1zM105 315h1v1h-1zM106 315h1v1h-1zM107 315h1v1h-1zM108 315h1v1h-1zM109 315h1v1h-1zM110 315h1v1h-1zM114 315h1v1h-1zM84 316h1v1h-1zM85 316h1v1h-1zM86 316h1v1h-1zM102 316h1v1h-1zM103 316h1v1h-1zM104 316h1v1h-1zM105 316h1v1h-1zM106 316h1v1h-1zM107 316h1v1h-1zM108 316h1v1h-1zM109 316h1v1h-1zM85 317h1v1h-1zM86 317h1v1h-1zM102 317h1v1h-1zM103 317h1v1h-1zM104 317h1v1h-1zM105 317h1v1h-1zM106 317h1v1h-1zM108 317h1v1h-1zM85 318h1v1h-1zM86 318h1v1h-1zM87 318h1v1h-1zM102 318h1v1h-1zM103 318h1v1h-1zM104 318h1v1h-1zM106 318h1v1h-1zM85 319h1v1h-1zM86 319h1v1h-1zM87 319h1v1h-1zM100 319h1v1h-1zM101 319h1v1h-1zM102 319h1v1h-1zM103 319h1v1h-1zM104 319h1v1h-1zM86 320h1v1h-1zM87 320h1v1h-1zM101 320h1v1h-1zM102 320h1v1h-1zM103 320h1v1h-1zM86 321h1v1h-1zM87 321h1v1h-1zM100 321h1v1h-1zM101 321h1v1h-1zM102 321h1v1h-1zM87 322h1v1h-1zM101 322h1v1h-1zM87 323h1v1h-1zM88 323h1v1h-1zM99 323h1v1h-1zM100 323h1v1h-1zM87 324h1v1h-1zM88 324h1v1h-1zM100 324h1v1h-1zM87 325h1v1h-1zM88 325h1v1h-1zM99 325h1v1h-1zM88 326h1v1h-1zM99 326h1v1h-1zM100 326h1v1h-1zM88 327h1v1h-1zM89 327h1v1h-1zM98 327h1v1h-1zM99 327h1v1h-1zM100 327h1v1h-1zM89 328h1v1h-1zM98 328h1v1h-1zM99 328h1v1h-1zM89 329h1v1h-1zM98 329h1v1h-1zM89 330h1v1h-1zM90 330h1v1h-1zM98 330h1v1h-1zM89 331h1v1h-1zM98 331h1v1h-1zM89 332h1v1h-1zM97 332h1v1h-1zM90 333h1v1h-1zM97 333h1v1h-1zM90 334h1v1h-1zM97 334h1v1h-1zM90 335h1v1h-1zM91 335h1v1h-1zM97 335h1v1h-1zM91 336h1v1h-1zM96 336h1v1h-1zM91 337h1v1h-1zM92 337h1v1h-1zM93 337h1v1h-1zM95 337h1v1h-1zM96 337h1v1h-1zM92 338h1v1h-1zM93 338h1v1h-1zM94 338h1v1h-1zM95 338h1v1h-1z" fill="#3a78d8" opacity="0.8"/>
<path d="M95 296h1v1h-1zM89 297h1v1h-1zM91 297h1v1h-1zM92 297h1v1h-1zM93 297h1v1h-1zM94 297h1v1h-1zM95 297h1v1h-1zM96 297h1v1h-1zM97 297h1v1h-1zM98 297h1v1h-1zM99 297h1v1h-1zM86 298h1v1h-1zM88 298h1v1h-1zM89 298h1v1h-1zM90 298h1v1h-1zM92 298h1v1h-1zM97 298h1v1h-1zM98 298h1v1h-1zM99 298h1v1h-1zM100 298h1v1h-1zM101 298h1v1h-1zM102 298h1v1h-1zM103 298h1v1h-1zM104 298h1v1h-1zM85 299h1v1h-1zM86 299h1v1h-1zM87 299h1v1h-1zM88 299h1v1h-1zM89 299h1v1h-1zM98 299h1v1h-1zM100 299h1v1h-1zM101 299h1v1h-1zM102 299h1v1h-1zM104 299h1v1h-1zM106 299h1v1h-1zM84 300h1v1h-1zM86 300h1v1h-1zM87 300h1v1h-1zM88 300h1v1h-1zM90 300h1v1h-1zM99 300h1v1h-1zM100 300h1v1h-1zM101 300h1v1h-1zM102 300h1v1h-1zM103 300h1v1h-1zM104 300h1v1h-1zM105 300h1v1h-1zM85 301h1v1h-1zM86 301h1v1h-1zM87 301h1v1h-1zM88 301h1v1h-1zM99 301h1v1h-1zM100 301h1v1h-1zM101 301h1v1h-1zM102 301h1v1h-1zM103 301h1v1h-1zM104 301h1v1h-1zM105 301h1v1h-1zM106 301h1v1h-1zM85 302h1v1h-1zM86 302h1v1h-1zM87 302h1v1h-1zM101 302h1v1h-1zM102 302h1v1h-1zM103 302h1v1h-1zM104 302h1v1h-1zM105 302h1v1h-1zM106 302h1v1h-1zM107 302h1v1h-1zM108 302h1v1h-1zM86 303h1v1h-1zM87 303h1v1h-1zM88 303h1v1h-1zM101 303h1v1h-1zM103 303h1v1h-1zM104 303h1v1h-1zM105 303h1v1h-1zM106 303h1v1h-1zM107 303h1v1h-1zM108 303h1v1h-1zM85 304h1v1h-1zM86 304h1v1h-1zM103 304h1v1h-1zM104 304h1v1h-1zM105 304h1v1h-1zM106 304h1v1h-1zM107 304h1v1h-1zM86 305h1v1h-1zM87 305h1v1h-1zM88 305h1v1h-1zM103 305h1v1h-1zM104 305h1v1h-1zM105 305h1v1h-1zM106 305h1v1h-1zM107 305h1v1h-1zM108 305h1v1h-1zM109 305h1v1h-1zM85 306h1v1h-1zM86 306h1v1h-1zM87 306h1v1h-1zM103 306h1v1h-1zM105 306h1v1h-1zM106 306h1v1h-1zM109 306h1v1h-1zM85 307h1v1h-1zM86 307h1v1h-1zM87 307h1v1h-1zM102 307h1v1h-1zM103 307h1v1h-1zM104 307h1v1h-1zM105 307h1v1h-1zM106 307h1v1h-1zM107 307h1v1h-1zM108 307h1v1h-1zM109 307h1v1h-1zM86 308h1v1h-1zM87 308h1v1h-1zM102 308h1v1h-1zM103 308h1v1h-1zM104 308h1v1h-1zM105 308h1v1h-1zM106 308h1v1h-1zM107 308h1v1h-1zM108 308h1v1h-1zM109 308h1v1h-1zM86 309h1v1h-1zM87 309h1v1h-1zM102 309h1v1h-1zM103 309h1v1h-1zM104 309h1v1h-1zM105 309h1v1h-1zM106 309h1v1h-1zM107 309h1v1h-1zM108 309h1v1h-1zM87 310h1v1h-1zM101 310h1v1h-1zM102 310h1v1h-1zM103 310h1v1h-1zM104 310h1v1h-1zM105 310h1v1h-1zM106 310h1v1h-1zM108 310h1v1h-1zM86 311h1v1h-1zM87 311h1v1h-1zM101 311h1v1h-1zM102 311h1v1h-1zM103 311h1v1h-1zM104 311h1v1h-1zM105 311h1v1h-1zM106 311h1v1h-1zM87 312h1v1h-1zM101 312h1v1h-1zM102 312h1v1h-1zM103 312h1v1h-1zM104 312h1v1h-1zM105 312h1v1h-1zM107 312h1v1h-1zM86 313h1v1h-1zM87 313h1v1h-1zM101 313h1v1h-1zM102 313h1v1h-1zM103 313h1v1h-1zM104 313h1v1h-1zM105 313h1v1h-1zM87 314h1v1h-1zM88 314h1v1h-1zM100 314h1v1h-1zM101 314h1v1h-1zM102 314h1v1h-1zM103 314h1v1h-1zM104 314h1v1h-1zM105 314h1v1h-1zM87 315h1v1h-1zM88 315h1v1h-1zM89 315h1v1h-1zM100 315h1v1h-1zM101 315h1v1h-1zM102 315h1v1h-1zM103 315h1v1h-1zM104 315h1v1h-1zM87 316h1v1h-1zM88 316h1v1h-1zM101 316h1v1h-1zM87 317h1v1h-1zM88 317h1v1h-1zM99 317h1v1h-1zM100 317h1v1h-1zM101 317h1v1h-1zM88 318h1v1h-1zM100 318h1v1h-1zM101 318h1v1h-1zM88 319h1v1h-1zM89 319h1v1h-1zM99 319h1v1h-1zM88 320h1v1h-1zM99 320h1v1h-1zM100 320h1v1h-1zM88 321h1v1h-1zM89 321h1v1h-1zM98 321h1v1h-1zM99 321h1v1h-1zM88 322h1v1h-1zM89 322h1v1h-1zM90 322h1v1h-1zM97 322h1v1h-1zM98 322h1v1h-1zM99 322h1v1h-1zM100 322h1v1h-1zM89 323h1v1h-1zM90 323h1v1h-1zM98 323h1v1h-1zM89 324h1v1h-1zM96 324h1v1h-1zM97 324h1v1h-1zM98 324h1v1h-1zM99 324h1v1h-1zM89 325h1v1h-1zM90 325h1v1h-1zM97 325h1v1h-1zM98 325h1v1h-1zM89 326h1v1h-1zM90 326h1v1h-1zM91 326h1v1h-1zM97 326h1v1h-1zM98 326h1v1h-1zM90 327h1v1h-1zM91 327h1v1h-1zM96 327h1v1h-1zM97 327h1v1h-1zM90 328h1v1h-1zM91 328h1v1h-1zM94 328h1v1h-1zM95 328h1v1h-1zM96 328h1v1h-1zM97 328h1v1h-1zM90 329h1v1h-1zM96 329h1v1h-1zM97 329h1v1h-1zM91 330h1v1h-1zM95 330h1v1h-1zM96 330h1v1h-1zM97 330h1v1h-1zM90 331h1v1h-1zM91 331h1v1h-1zM96 331h1v1h-1zM97 331h1v1h-1zM90 332h1v1h-1zM91 332h1v1h-1zM92 332h1v1h-1zM95 332h1v1h-1zM96 332h1v1h-1zM91 333h1v1h-1zM92 333h1v1h-1zM96 333h1v1h-1zM91 334h1v1h-1zM92 334h1v1h-1zM94 334h1v1h-1zM95 334h1v1h-1zM96 334h1v1h-1zM92 335h1v1h-1zM93 335h1v1h-1zM94 335h1v1h-1zM95 335h1v1h-1zM96 335h1v1h-1zM92 336h1v1h-1zM93 336h1v1h-1zM94 336h1v1h-1zM95 336h1v1h-1zM94 337h1v1h-1z" fill="#22a8b0" opacity="0.8"/>
<path d="M91 298h1v1h-1zM93 298h1v1h-1zM94 298h1v1h-1zM95 298h1v1h-1zM96 298h1v1h-1zM90 299h1v1h-1zM91 299h1v1h-1zM92 299h1v1h-1zM93 299h1v1h-1zM94 299h1v1h-1zM95 299h1v1h-1zM96 299h1v1h-1zM97 299h1v1h-1zM99 299h1v1h-1zM89 300h1v1h-1zM91 300h1v1h-1zM93 300h1v1h-1zM94 300h1v1h-1zM97 300h1v1h-1zM98 300h1v1h-1zM89 301h1v1h-1zM90 301h1v1h-1zM92 301h1v1h-1zM97 301h1v1h-1zM98 301h1v1h-1zM88 302h1v1h-1zM89 302h1v1h-1zM90 302h1v1h-1zM91 302h1v1h-1zM97 302h1v1h-1zM98 302h1v1h-1zM99 302h1v1h-1zM100 302h1v1h-1zM89 303h1v1h-1zM99 303h1v1h-1zM100 303h1v1h-1zM102 303h1v1h-1zM87 304h1v1h-1zM88 304h1v1h-1zM89 304h1v1h-1zM99 304h1v1h-1zM100 304h1v1h-1zM101 304h1v1h-1zM102 304h1v1h-1zM89 305h1v1h-1zM90 305h1v1h-1zM98 305h1v1h-1zM99 305h1v1h-1zM100 305h1v1h-1zM101 305h1v1h-1zM102 305h1v1h-1zM88 306h1v1h-1zM89 306h1v1h-1zM100 306h1v1h-1zM101 306h1v1h-1zM102 306h1v1h-1zM104 306h1v1h-1zM88 307h1v1h-1zM89 307h1v1h-1zM99 307h1v1h-1zM100 307h1v1h-1zM101 307h1v1h-1zM88 308h1v1h-1zM89 308h1v1h-1zM90 308h1v1h-1zM99 308h1v1h-1zM100 308h1v1h-1zM101 308h1v1h-1zM88 309h1v1h-1zM89 309h1v1h-1zM98 309h1v1h-1zM99 309h1v1h-1zM100 309h1v1h-1zM101 309h1v1h-1zM88 310h1v1h-1zM89 310h1v1h-1zM99 310h1v1h-1zM100 310h1v1h-1zM88 311h1v1h-1zM89 311h1v1h-1zM99 311h1v1h-1zM100 311h1v1h-1zM88 312h1v1h-1zM89 312h1v1h-1zM90 312h1v1h-1zM99 312h1v1h-1zM100 312h1v1h-1zM88 313h1v1h-1zM89 313h1v1h-1zM98 313h1v1h-1zM99 313h1v1h-1zM100 313h1v1h-1zM89 314h1v1h-1zM98 314h1v1h-1zM99 314h1v1h-1zM98 315h1v1h-1zM99 315h1v1h-1zM89 316h1v1h-1zM90 316h1v1h-1zM91 316h1v1h-1zM99 316h1v1h-1zM100 316h1v1h-1zM89 317h1v1h-1zM90 317h1v1h-1zM98 317h1v1h-1zM89 318h1v1h-1zM90 318h1v1h-1zM96 318h1v1h-1zM97 318h1v1h-1zM98 318h1v1h-1zM99 318h1v1h-1zM90 319h1v1h-1zM93 319h1v1h-1zM96 319h1v1h-1zM97 319h1v1h-1zM98 319h1v1h-1zM89 320h1v1h-1zM90 320h1v1h-1zM91 320h1v1h-1zM92 320h1v1h-1zM93 320h1v1h-1zM94 320h1v1h-1zM95 320h1v1h-1zM96 320h1v1h-1zM97 320h1v1h-1zM98 320h1v1h-1zM90 321h1v1h-1zM91 321h1v1h-1zM92 321h1v1h-1zM93 321h1v1h-1zM96 321h1v1h-1zM97 321h1v1h-1zM91 322h1v1h-1zM92 322h1v1h-1zM93 322h1v1h-1zM95 322h1v1h-1zM96 322h1v1h-1zM91 323h1v1h-1zM92 323h1v1h-1zM93 323h1v1h-1zM94 323h1v1h-1zM95 323h1v1h-1zM96 323h1v1h-1zM97 323h1v1h-1zM90 324h1v1h-1zM91 324h1v1h-1zM92 324h1v1h-1zM93 324h1v1h-1zM94 324h1v1h-1zM95 324h1v1h-1zM91 325h1v1h-1zM92 325h1v1h-1zM93 325h1v1h-1zM94 325h1v1h-1zM95 325h1v1h-1zM96 325h1v1h-1zM92 326h1v1h-1zM93 326h1v1h-1zM94 326h1v1h-1zM95 326h1v1h-1zM96 326h1v1h-1zM92 327h1v1h-1zM93 327h1v1h-1zM94 327h1v1h-1zM95 327h1v1h-1zM92 328h1v1h-1zM93 328h1v1h-1zM91 329h1v1h-1zM92 329h1v1h-1zM93 329h1v1h-1zM94 329h1v1h-1zM95 329h1v1h-1zM92 330h1v1h-1zM93 330h1v1h-1zM94 330h1v1h-1zM92 331h1v1h-1zM93 331h1v1h-1zM94 331h1v1h-1zM95 331h1v1h-1zM93 332h1v1h-1zM94 332h1v1h-1zM93 333h1v1h-1zM94 333h1v1h-1zM95 333h1v1h-1zM93 334h1v1h-1z" fill="#34c060" opacity="0.8"/>
<path d="M92 300h1v1h-1zM95 300h1v1h-1zM96 300h1v1h-1zM91 301h1v1h-1zM93 301h1v1h-1zM94 301h1v1h-1zM95 301h1v1h-1zM96 301h1v1h-1zM92 302h1v1h-1zM93 302h1v1h-1zM94 302h1v1h-1zM95 302h1v1h-1zM96 302h1v1h-1zM90 303h1v1h-1zM91 303h1v1h-1zM92 303h1v1h-1zM93 303h1v1h-1zM94 303h1v1h-1zM95 303h1v1h-1zM96 303h1v1h-1zM97 303h1v1h-1zM98 303h1v1h-1zM90 304h1v1h-1zM91 304h1v1h-1zM92 304h1v1h-1zM95 304h1v1h-1zM96 304h1v1h-1zM97 304h1v1h-1zM98 304h1v1h-1zM91 305h1v1h-1zM92 305h1v1h-1zM97 305h1v1h-1zM90 306h1v1h-1zM91 306h1v1h-1zM97 306h1v1h-1zM98 306h1v1h-1zM99 306h1v1h-1zM90 307h1v1h-1zM91 307h1v1h-1zM98 307h1v1h-1zM97 308h1v1h-1zM98 308h1v1h-1zM90 309h1v1h-1zM97 309h1v1h-1zM90 310h1v1h-1zM91 310h1v1h-1zM98 310h1v1h-1zM90 311h1v1h-1zM97 311h1v1h-1zM98 311h1v1h-1zM91 312h1v1h-1zM98 312h1v1h-1zM90 313h1v1h-1zM91 313h1v1h-1zM97 313h1v1h-1zM90 314h1v1h-1zM91 314h1v1h-1zM97 314h1v1h-1zM90 315h1v1h-1zM91 315h1v1h-1zM92 315h1v1h-1zM95 315h1v1h-1zM96 315h1v1h-1zM97 315h1v1h-1zM92 316h1v1h-1zM93 316h1v1h-1zM95 316h1v1h-1zM96 316h1v1h-1zM97 316h1v1h-1zM98 316h1v1h-1zM91 317h1v1h-1zM92 317h1v1h-1zM93 317h1v1h-1zM94 317h1v1h-1zM95 317h1v1h-1zM96 317h1v1h-1zM97 317h1v1h-1zM91 318h1v1h-1zM92 318h1v1h-1zM93 318h1v1h-1zM94 318h1v1h-1zM95 318h1v1h-1zM91 319h1v1h-1zM92 319h1v1h-1zM94 319h1v1h-1zM95 319h1v1h-1zM94 321h1v1h-1zM95 321h1v1h-1zM94 322h1v1h-1z" fill="#9cd23a" opacity="0.8"/>
<path d="M93 304h1v1h-1zM94 304h1v1h-1zM93 305h1v1h-1zM95 305h1v1h-1zM96 305h1v1h-1zM92 306h1v1h-1zM92 307h1v1h-1zM94 307h1v1h-1zM95 307h1v1h-1zM97 307h1v1h-1zM91 308h1v1h-1zM92 308h1v1h-1zM95 308h1v1h-1zM96 308h1v1h-1zM91 309h1v1h-1zM92 309h1v1h-1zM96 309h1v1h-1zM92 310h1v1h-1zM97 310h1v1h-1zM91 311h1v1h-1zM96 311h1v1h-1zM92 312h1v1h-1zM95 312h1v1h-1zM97 312h1v1h-1zM96 313h1v1h-1zM92 314h1v1h-1zM93 314h1v1h-1zM94 314h1v1h-1zM95 314h1v1h-1zM96 314h1v1h-1zM93 315h1v1h-1zM94 315h1v1h-1zM94 316h1v1h-1z" fill="#e8c820" opacity="0.8"/>
<path d="M94 305h1v1h-1zM93 306h1v1h-1zM94 306h1v1h-1zM95 306h1v1h-1zM96 306h1v1h-1zM93 307h1v1h-1zM96 307h1v1h-1zM93 308h1v1h-1zM94 308h1v1h-1zM93 309h1v1h-1zM94 309h1v1h-1zM95 309h1v1h-1zM93 310h1v1h-1zM94 310h1v1h-1zM95 310h1v1h-1zM96 310h1v1h-1zM92 311h1v1h-1zM93 311h1v1h-1zM94 311h1v1h-1zM95 311h1v1h-1zM93 312h1v1h-1zM94 312h1v1h-1zM96 312h1v1h-1zM92 313h1v1h-1zM93 313h1v1h-1zM94 313h1v1h-1zM95 313h1v1h-1z" fill="#f07a20" opacity="0.8"/>
<line x1="110.8" y1="277.9" x2="110.8" y2="351.5" stroke="#dc9ddc" stroke-width="0.8"/>
<line x1="62.8" y1="324" x2="137.7" y2="324" stroke="#dc9ddc" stroke-width="0.8"/>
<rect x="62.8" y="277.9" width="74.9" height="73.6" fill="none" stroke="#a0a0a0" stroke-width="0.8"/>
<line x1="62" y1="278.9" x2="62" y2="350.5" stroke="#999" stroke-width="1.2" stroke-dasharray="0.6 1.6"/>
<line x1="85.8" y1="350.3" x2="114.8" y2="350.3" stroke="#8890c0" stroke-width="0.9"/>
<text x="64.2" y="288.7" font-size="10" text-anchor="start" fill="#222">67.3</text>
<text x="136.9" y="288.7" font-size="10" text-anchor="end" fill="#222">16.9</text>
<text x="64.2" y="350.1" font-size="10" text-anchor="start" fill="#222">12.4</text>
<text x="136.9" y="350.1" font-size="10" text-anchor="end" fill="#222">3.39</text>
<path d="M173 288h1v1h-1zM184 288h1v1h-1zM166 289h1v1h-1zM169 290h1v1h-1zM187 290h1v1h-1zM191 290h1v1h-1zM169 291h1v1h-1zM171 291h1v1h-1zM172 291h1v1h-1zM173 291h1v1h-1zM182 291h1v1h-1zM184 291h1v1h-1zM166 292h1v1h-1zM170 292h1v1h-1zM172 292h1v1h-1zM174 292h1v1h-1zM175 292h1v1h-1zM179 292h1v1h-1zM182 292h1v1h-1zM183 292h1v1h-1zM186 292h1v1h-1zM192 292h1v1h-1zM153 293h1v1h-1zM165 293h1v1h-1zM166 293h1v1h-1zM167 293h1v1h-1zM169 293h1v1h-1zM171 293h1v1h-1zM172 293h1v1h-1zM173 293h1v1h-1zM175 293h1v1h-1zM180 293h1v1h-1zM181 293h1v1h-1zM184 293h1v1h-1zM186 293h1v1h-1zM190 293h1v1h-1zM148 294h1v1h-1zM152 294h1v1h-1zM155 294h1v1h-1zM156 294h1v1h-1zM157 294h1v1h-1zM158 294h1v1h-1zM160 294h1v1h-1zM163 294h1v1h-1zM166 294h1v1h-1zM168 294h1v1h-1zM169 294h1v1h-1zM173 294h1v1h-1zM175 294h1v1h-1zM179 294h1v1h-1zM181 294h1v1h-1zM184 294h1v1h-1zM188 294h1v1h-1zM190 294h1v1h-1zM154 295h1v1h-1zM160 295h1v1h-1zM162 295h1v1h-1zM163 295h1v1h-1zM165 295h1v1h-1zM167 295h1v1h-1zM176 295h1v1h-1zM179 295h1v1h-1zM182 295h1v1h-1zM183 295h1v1h-1zM184 295h1v1h-1zM190 295h1v1h-1zM156 296h1v1h-1zM157 296h1v1h-1zM161 296h1v1h-1zM163 296h1v1h-1zM165 296h1v1h-1zM166 296h1v1h-1zM168 296h1v1h-1zM181 296h1v1h-1zM185 296h1v1h-1zM192 296h1v1h-1zM151 297h1v1h-1zM155 297h1v1h-1zM159 297h1v1h-1zM161 297h1v1h-1zM164 297h1v1h-1zM167 297h1v1h-1zM168 297h1v1h-1zM180 297h1v1h-1zM181 297h1v1h-1zM184 297h1v1h-1zM147 298h1v1h-1zM154 298h1v1h-1zM159 298h1v1h-1zM163 298h1v1h-1zM165 298h1v1h-1zM166 298h1v1h-1zM183 298h1v1h-1zM186 298h1v1h-1zM152 299h1v1h-1zM159 299h1v1h-1zM163 299h1v1h-1zM165 299h1v1h-1zM166 299h1v1h-1zM181 299h1v1h-1zM186 299h1v1h-1zM157 300h1v1h-1zM160 300h1v1h-1zM162 300h1v1h-1zM163 300h1v1h-1zM165 300h1v1h-1zM166 300h1v1h-1zM167 300h1v1h-1zM181 300h1v1h-1zM182 300h1v1h-1zM183 300h1v1h-1zM186 300h1v1h-1zM189 300h1v1h-1zM159 301h1v1h-1zM165 301h1v1h-1zM167 301h1v1h-1zM181 301h1v1h-1zM182 301h1v1h-1zM164 302h1v1h-1zM166 302h1v1h-1zM181 302h1v1h-1zM184 302h1v1h-1zM188 302h1v1h-1zM155 303h1v1h-1zM156 303h1v1h-1zM160 303h1v1h-1zM164 303h1v1h-1zM165 303h1v1h-1zM166 303h1v1h-1zM167 303h1v1h-1zM168 303h1v1h-1zM181 303h1v1h-1zM182 303h1v1h-1zM185 303h1v1h-1zM188 303h1v1h-1zM167 304h1v1h-1zM182 304h1v1h-1zM183 304h1v1h-1zM192 304h1v1h-1zM161 305h1v1h-1zM164 305h1v1h-1zM168 305h1v1h-1zM154 306h1v1h-1zM158 306h1v1h-1zM160 306h1v1h-1zM166 306h1v1h-1zM167 306h1v1h-1zM168 306h1v1h-1zM180 306h1v1h-1zM184 306h1v1h-1zM156 307h1v1h-1zM180 307h1v1h-1zM181 307h1v1h-1zM182 307h1v1h-1zM185 307h1v1h-1zM187 307h1v1h-1zM188 307h1v1h-1zM190 307h1v1h-1zM160 308h1v1h-1zM165 308h1v1h-1zM168 308h1v1h-1zM169 308h1v1h-1zM180 308h1v1h-1zM165 309h1v1h-1zM180 309h1v1h-1zM181 309h1v1h-1zM183 309h1v1h-1zM155 310h1v1h-1zM164 310h1v1h-1zM165 310h1v1h-1zM167 310h1v1h-1zM169 310h1v1h-1zM178 310h1v1h-1zM180 310h1v1h-1zM184 310h1v1h-1zM186 310h1v1h-1zM165 311h1v1h-1zM167 311h1v1h-1zM178 311h1v1h-1zM179 311h1v1h-1zM182 311h1v1h-1zM189 311h1v1h-1zM162 312h1v1h-1zM165 312h1v1h-1zM169 312h1v1h-1zM179 312h1v1h-1zM180 312h1v1h-1zM166 313h1v1h-1zM167 313h1v1h-1zM168 313h1v1h-1zM169 313h1v1h-1zM170 313h1v1h-1zM171 313h1v1h-1zM176 313h1v1h-1zM182 313h1v1h-1zM184 313h1v1h-1zM185 313h1v1h-1zM167 314h1v1h-1zM168 314h1v1h-1zM170 314h1v1h-1zM178 314h1v1h-1zM179 314h1v1h-1zM181 314h1v1h-1zM166 315h1v1h-1zM167 315h1v1h-1zM170 315h1v1h-1zM171 315h1v1h-1zM178 315h1v1h-1zM163 316h1v1h-1zM165 316h1v1h-1zM166 316h1v1h-1zM169 316h1v1h-1zM175 316h1v1h-1zM176 316h1v1h-1zM177 316h1v1h-1zM178 316h1v1h-1zM182 316h1v1h-1zM186 316h1v1h-1zM167 317h1v1h-1zM174 317h1v1h-1zM175 317h1v1h-1zM176 317h1v1h-1zM177 317h1v1h-1zM179 317h1v1h-1zM180 317h1v1h-1zM168 318h1v1h-1zM170 318h1v1h-1zM175 318h1v1h-1zM181 318h1v1h-1zM209 318h1v1h-1zM171 319h1v1h-1zM172 319h1v1h-1zM175 319h1v1h-1zM177 319h1v1h-1zM178 319h1v1h-1zM179 319h1v1h-1zM172 320h1v1h-1zM177 320h1v1h-1zM185 320h1v1h-1zM167 321h1v1h-1zM172 321h1v1h-1zM173 321h1v1h-1zM174 321h1v1h-1zM175 321h1v1h-1zM182 321h1v1h-1zM183 321h1v1h-1zM166 322h1v1h-1zM167 322h1v1h-1zM170 322h1v1h-1zM171 323h1v1h-1zM174 323h1v1h-1zM175 323h1v1h-1zM174 324h1v1h-1zM165 325h1v1h-1zM179 326h1v1h-1zM165 329h1v1h-1zM171 330h1v1h-1zM185 345h1v1h-1z" fill="#7a84dc" opacity="0.8"/>
<path d="M173 295h1v1h-1zM174 295h1v1h-1zM175 295h1v1h-1zM169 296h1v1h-1zM170 296h1v1h-1zM171 296h1v1h-1zM172 296h1v1h-1zM173 296h1v1h-1zM174 296h1v1h-1zM175 296h1v1h-1zM176 296h1v1h-1zM177 296h1v1h-1zM178 296h1v1h-1zM179 296h1v1h-1zM170 297h1v1h-1zM171 297h1v1h-1zM172 297h1v1h-1zM173 297h1v1h-1zM174 297h1v1h-1zM175 297h1v1h-1zM176 297h1v1h-1zM177 297h1v1h-1zM178 297h1v1h-1zM179 297h1v1h-1zM169 298h1v1h-1zM170 298h1v1h-1zM171 298h1v1h-1zM172 298h1v1h-1zM173 298h1v1h-1zM174 298h1v1h-1zM175 298h1v1h-1zM176 298h1v1h-1zM177 298h1v1h-1zM178 298h1v1h-1zM180 298h1v1h-1zM168 299h1v1h-1zM170 299h1v1h-1zM172 299h1v1h-1zM175 299h1v1h-1zM176 299h1v1h-1zM177 299h1v1h-1zM178 299h1v1h-1zM179 299h1v1h-1zM180 299h1v1h-1zM168 300h1v1h-1zM169 300h1v1h-1zM170 300h1v1h-1zM171 300h1v1h-1zM172 300h1v1h-1zM175 300h1v1h-1zM176 300h1v1h-1zM177 300h1v1h-1zM178 300h1v1h-1zM168 301h1v1h-1zM169 301h1v1h-1zM170 301h1v1h-1zM171 301h1v1h-1zM172 301h1v1h-1zM177 301h1v1h-1zM178 301h1v1h-1zM179 301h1v1h-1zM177 302h1v1h-1zM178 302h1v1h-1zM179 302h1v1h-1zM170 303h1v1h-1zM171 303h1v1h-1zM177 303h1v1h-1zM178 303h1v1h-1zM179 303h1v1h-1zM180 303h1v1h-1zM169 304h1v1h-1zM170 304h1v1h-1zM171 304h1v1h-1zM174 304h1v1h-1zM177 304h1v1h-1zM178 304h1v1h-1zM179 304h1v1h-1zM180 304h1v1h-1zM169 305h1v1h-1zM170 305h1v1h-1zM171 305h1v1h-1zM172 305h1v1h-1zM177 305h1v1h-1zM179 305h1v1h-1zM180 305h1v1h-1zM169 306h1v1h-1zM170 306h1v1h-1zM171 306h1v1h-1zM172 306h1v1h-1zM174 306h1v1h-1zM175 306h1v1h-1zM176 306h1v1h-1zM177 306h1v1h-1zM178 306h1v1h-1zM170 307h1v1h-1zM171 307h1v1h-1zM173 307h1v1h-1zM174 307h1v1h-1zM175 307h1v1h-1zM176 307h1v1h-1zM177 307h1v1h-1zM178 307h1v1h-1zM179 307h1v1h-1zM170 308h1v1h-1zM171 308h1v1h-1zM173 308h1v1h-1zM176 308h1v1h-1zM177 308h1v1h-1zM178 308h1v1h-1zM171 309h1v1h-1zM172 309h1v1h-1zM173 309h1v1h-1zM174 309h1v1h-1zM175 309h1v1h-1zM176 309h1v1h-1zM177 309h1v1h-1zM172 310h1v1h-1zM173 310h1v1h-1zM175 310h1v1h-1zM176 310h1v1h-1zM171 311h1v1h-1zM172 311h1v1h-1zM173 311h1v1h-1zM174 311h1v1h-1zM175 311h1v1h-1zM177 311h1v1h-1zM174 312h1v1h-1zM175 312h1v1h-1zM176 312h1v1h-1zM172 313h1v1h-1zM174 313h1v1h-1zM175 313h1v1h-1zM171 314h1v1h-1zM173 314h1v1h-1zM174 314h1v1h-1zM175 314h1v1h-1zM176 314h1v1h-1zM172 315h1v1h-1zM173 315h1v1h-1zM175 315h1v1h-1zM172 316h1v1h-1zM173 316h1v1h-1zM174 316h1v1h-1zM171 317h1v1h-1zM172 317h1v1h-1zM173 317h1v1h-1z" fill="#5a68c0" opacity="0.8"/>
<path d="M173 299h1v1h-1zM174 299h1v1h-1zM173 300h1v1h-1zM174 300h1v1h-1zM173 301h1v1h-1zM174 301h1v1h-1zM175 301h1v1h-1zM176 301h1v1h-1zM171 302h1v1h-1zM172 302h1v1h-1zM173 302h1v1h-1zM174 302h1v1h-1zM175 302h1v1h-1zM176 302h1v1h-1zM172 303h1v1h-1zM173 303h1v1h-1zM174 303h1v1h-1zM175 303h1v1h-1zM176 303h1v1h-1zM172 304h1v1h-1zM173 304h1v1h-1zM175 304h1v1h-1zM176 304h1v1h-1zM173 305h1v1h-1zM174 305h1v1h-1zM175 305h1v1h-1zM176 305h1v1h-1zM173 306h1v1h-1z" fill="#5a7080" opacity="0.8"/>
<line x1="190.5" y1="277.9" x2="190.5" y2="351.5" stroke="#dc9ddc" stroke-width="0.8"/>
<line x1="142" y1="324" x2="217" y2="324" stroke="#dc9ddc" stroke-width="0.8"/>
<rect x="142" y="277.9" width="75" height="73.6" fill="none" stroke="#a0a0a0" stroke-width="0.8"/>
<line x1="141.2" y1="278.9" x2="141.2" y2="350.5" stroke="#999" stroke-width="1.2" stroke-dasharray="0.6 1.6"/>
<line x1="165" y1="350.3" x2="194" y2="350.3" stroke="#8890c0" stroke-width="0.9"/>
<text x="143.4" y="288.7" font-size="10" text-anchor="start" fill="#222">94.3</text>
<text x="216.2" y="288.7" font-size="10" text-anchor="end" fill="#222">2.35</text>
<text x="143.4" y="350.1" font-size="10" text-anchor="start" fill="#222">2.74</text>
<text x="216.2" y="350.1" font-size="10" text-anchor="end" fill="#222">0.59</text>
<text x="59.6" y="213.14" font-size="6.5" text-anchor="end" fill="#222">10<tspan dx="0.2" dy="-2.73" font-size="4.8">5</tspan></text>
<text x="59.6" y="229.04" font-size="6.5" text-anchor="end" fill="#222">10<tspan dx="0.2" dy="-2.73" font-size="4.8">4</tspan></text>
<text x="59.6" y="245.64" font-size="6.5" text-anchor="end" fill="#222">10<tspan dx="0.2" dy="-2.73" font-size="4.8">3</tspan></text>
<text x="59.6" y="262.14" font-size="6.5" text-anchor="end" fill="#222">10<tspan dx="0.2" dy="-2.73" font-size="4.8">2</tspan></text>
<text x="58.8" y="269.04" font-size="6.5" text-anchor="end" fill="#222">0</text>
<text x="59.6" y="287.94" font-size="6.5" text-anchor="end" fill="#222">10<tspan dx="0.2" dy="-2.73" font-size="4.8">5</tspan></text>
<text x="59.6" y="304.04" font-size="6.5" text-anchor="end" fill="#222">10<tspan dx="0.2" dy="-2.73" font-size="4.8">4</tspan></text>
<text x="59.6" y="320.34" font-size="6.5" text-anchor="end" fill="#222">10<tspan dx="0.2" dy="-2.73" font-size="4.8">3</tspan></text>
<text x="59.6" y="335.84" font-size="6.5" text-anchor="end" fill="#222">10<tspan dx="0.2" dy="-2.73" font-size="4.8">2</tspan></text>
<text x="58.8" y="343.84" font-size="6.5" text-anchor="end" fill="#222">0</text>
<text x="70.8" y="360.4" font-size="6.4" text-anchor="middle" fill="#222">0</text>
<text x="76.3" y="360.4" font-size="6.4" text-anchor="start" fill="#222">10<tspan dx="0.2" dy="-2.69" font-size="5.2">2</tspan></text>
<text x="93.6" y="360.4" font-size="6.4" text-anchor="start" fill="#222">10<tspan dx="0.2" dy="-2.69" font-size="5.2">3</tspan></text>
<text x="110" y="360.4" font-size="6.4" text-anchor="start" fill="#222">10<tspan dx="0.2" dy="-2.69" font-size="5.2">4</tspan></text>
<text x="127.3" y="360.4" font-size="6.4" text-anchor="start" fill="#222">10<tspan dx="0.2" dy="-2.69" font-size="5.2">5</tspan></text>
<text x="150" y="360.4" font-size="6.4" text-anchor="middle" fill="#222">0</text>
<text x="155.3" y="360.4" font-size="6.4" text-anchor="start" fill="#222">10<tspan dx="0.2" dy="-2.69" font-size="5.2">2</tspan></text>
<text x="172.8" y="360.4" font-size="6.4" text-anchor="start" fill="#222">10<tspan dx="0.2" dy="-2.69" font-size="5.2">3</tspan></text>
<text x="190.3" y="360.4" font-size="6.4" text-anchor="start" fill="#222">10<tspan dx="0.2" dy="-2.69" font-size="5.2">4</tspan></text>
<text x="208" y="360.4" font-size="6.4" text-anchor="start" fill="#222">10<tspan dx="0.2" dy="-2.69" font-size="5.2">5</tspan></text>
<line x1="243" y1="202.3" x2="243" y2="364.7" stroke="#111" stroke-width="1.9"/>
<line x1="242.1" y1="363.8" x2="336.5" y2="363.8" stroke="#111" stroke-width="1.9"/>
<text transform="translate(235.6 276) rotate(-90)" x="0" y="0" font-size="10.8" text-anchor="middle" fill="#222">Events</text>
<rect x="257.5" y="204.5" width="80.3" height="70.1" fill="none" stroke="#9a9a9a" stroke-width="0.9"/>
<line x1="256.7" y1="205.5" x2="256.7" y2="273.6" stroke="#999" stroke-width="1.2" stroke-dasharray="0.6 1.6"/>
<rect x="257.7" y="278.8" width="80.5" height="73" fill="none" stroke="#9a9a9a" stroke-width="0.9"/>
<line x1="256.9" y1="279.8" x2="256.9" y2="350.8" stroke="#999" stroke-width="1.2" stroke-dasharray="0.6 1.6"/>
<text x="254.6" y="210.23" font-size="6.2" text-anchor="end" fill="#222">100</text>
<text x="254.6" y="223.39" font-size="6.2" text-anchor="end" fill="#222">80</text>
<text x="254.6" y="236.55" font-size="6.2" text-anchor="end" fill="#222">60</text>
<text x="254.6" y="249.71" font-size="6.2" text-anchor="end" fill="#222">40</text>
<text x="254.6" y="262.87" font-size="6.2" text-anchor="end" fill="#222">20</text>
<text x="254.6" y="276.03" font-size="6.2" text-anchor="end" fill="#222">0</text>
<text x="254.6" y="284.73" font-size="6.2" text-anchor="end" fill="#222">100</text>
<text x="254.6" y="298.33" font-size="6.2" text-anchor="end" fill="#222">80</text>
<text x="254.6" y="311.93" font-size="6.2" text-anchor="end" fill="#222">60</text>
<text x="254.6" y="325.53" font-size="6.2" text-anchor="end" fill="#222">40</text>
<text x="254.6" y="339.13" font-size="6.2" text-anchor="end" fill="#222">20</text>
<text x="254.6" y="352.73" font-size="6.2" text-anchor="end" fill="#222">0</text>
<text x="266.8" y="359.9" font-size="6.2" text-anchor="middle" fill="#222">0</text>
<text x="273.8" y="359.9" font-size="6.2" text-anchor="start" fill="#222">10<tspan dx="0.2" dy="-2.6" font-size="5.2">2</tspan></text>
<text x="290.2" y="359.9" font-size="6.2" text-anchor="start" fill="#222">10<tspan dx="0.2" dy="-2.6" font-size="5.2">3</tspan></text>
<text x="306.5" y="359.9" font-size="6.2" text-anchor="start" fill="#222">10<tspan dx="0.2" dy="-2.6" font-size="5.2">4</tspan></text>
<text x="324.5" y="359.9" font-size="6.2" text-anchor="start" fill="#222">10<tspan dx="0.2" dy="-2.6" font-size="5.2">5</tspan></text>
<text x="293.6" y="376.3" font-size="10.8" text-anchor="middle" fill="#222">IFN-&#947;</text>
<text x="342.23" y="243.2" font-size="10.5" text-anchor="start" fill="#222">CD161</text>
<text x="375.34" y="239.99" font-size="10.2" text-anchor="start" fill="#222">hi</text>
<text x="342.73" y="256" font-size="10.5" text-anchor="start" fill="#222">CD62L</text>
<text x="376.9" y="253.56" font-size="9" text-anchor="start" fill="#222">+</text>
<text x="341.82" y="316.5" font-size="10.5" text-anchor="start" fill="#222">CD161</text>
<text x="374.74" y="313.19" font-size="10.2" text-anchor="start" fill="#222">hi</text>
<text x="344.73" y="329.2" font-size="10.5" text-anchor="start" fill="#222">CD62L</text>
<text x="377.99" y="326.78" font-size="9" text-anchor="start" fill="#222">-</text>
<path d="M258.5 273.6 C262 273.58 274.08 273.72 279.5 273.5 C284.92 273.28 287.87 273.87 291 272.3 C294.13 270.73 296.4 267.65 298.3 264.1 C300.2 260.55 301.32 255.9 302.4 251 C303.48 246.1 304.12 240.15 304.8 234.7 C305.48 229.25 305.82 222.6 306.5 218.3 C307.18 214 308.17 208.9 308.9 208.9 C309.63 208.9 310.35 214 310.9 218.3 C311.45 222.6 311.72 229.25 312.2 234.7 C312.68 240.15 313.12 245.83 313.8 251 C314.48 256.17 315.48 262.03 316.3 265.7 C317.12 269.37 317.75 271.68 318.7 273 C319.65 274.32 318.95 273.5 322 273.6 C325.05 273.7 334.5 273.6 337 273.6" fill="none" stroke="#c83c3c" stroke-width="1.1" stroke-linejoin="round" stroke-linecap="round"/>
<path d="M258.5 273.6 C263.75 273.58 283.78 273.53 290 273.5 C296.22 273.47 293.73 273.88 295.8 273.4 C297.87 272.92 300.5 272.97 302.4 270.6 C304.3 268.23 305.98 263.83 307.2 259.2 C308.42 254.57 309.13 248.25 309.7 242.8 C310.27 237.35 310.32 230.03 310.6 226.5 C310.88 222.97 310.92 224.05 311.4 221.6 C311.88 219.15 313.02 213.07 313.5 211.8 C313.98 210.53 314.03 214.63 314.3 214 C314.57 213.37 314.63 207.28 315.1 208 C315.57 208.72 316.63 213.85 317.1 218.3 C317.57 222.75 317.58 229.25 317.9 234.7 C318.22 240.15 318.58 245.55 319 251 C319.42 256.45 319.9 263.67 320.4 267.4 C320.9 271.13 319.23 272.37 322 273.4 C324.77 274.43 334.5 273.57 337 273.6" fill="none" stroke="#2c2cae" stroke-width="1.1" stroke-linejoin="round" stroke-linecap="round"/>
<path d="M258.5 350.5 L259.52 350.43 L260.54 350.35 L261.55 350.28 L262.57 350.21 L263.59 350.14 L264.61 350.06 L265.63 350.05 L266.65 349.92 L267.66 349.69 L268.68 349.9 L269.7 349.72 L270.93 348.76 L272.15 347.7 L273.38 347.15 L274.6 345.77 L275.83 343.72 L277.05 340.56 L278.27 337.99 L279.5 335.48 L280.52 334.02 L281.55 330.63 L282.58 332.15 L283.6 329.36 L284.62 327.76 L285.65 326.79 L286.68 324.12 L287.7 322.92 L288.73 321.49 L289.75 317.23 L290.77 318.38 L291.8 314.68 L292.87 311.45 L293.93 305.8 L295 302.75 L296.1 302.98 L297.2 298.14 L298.3 296.36 L299.4 294.5 L300.5 293.03 L301.6 286.79 L302.8 287.99 L304 283.7 L305.1 286.39 L306.2 285.41 L307.3 288.62 L308.5 293 L309.7 293.25 L311.4 309.37 L313 322.61 L314.25 329.76 L315.5 337.75 L316.57 341.41 L317.63 344.91 L318.7 348.99 L320.4 350.5 L321.44 350.5 L322.47 350.5 L323.51 350.5 L324.55 350.5 L325.59 350.5 L326.62 350.5 L327.66 350.5 L328.7 350.5 L329.74 350.5 L330.77 350.5 L331.81 350.5 L332.85 350.5 L333.89 350.5 L334.93 350.5 L335.96 350.5 L337 350.5" fill="none" stroke="#c83c3c" stroke-width="1.1" stroke-linejoin="round" stroke-linecap="round"/>
<path d="M258.5 350.5 L259.51 350.5 L260.51 350.5 L261.52 350.5 L262.52 350.5 L263.53 350.5 L264.54 350.5 L265.54 350.5 L266.55 350.5 L267.56 350.5 L268.56 350.5 L269.57 350.5 L270.58 350.5 L271.58 350.5 L272.59 350.5 L273.59 350.5 L274.6 350.5 L275.68 350.23 L276.77 350.04 L277.85 349.75 L278.93 349.32 L280.02 349.54 L281.1 348.74 L282.33 348.08 L283.55 347.53 L284.77 346.65 L286 345.72 L287 344.91 L288 345.69 L289 344.37 L290 344.31 L291 344.01 L292.2 342.78 L293.4 341.3 L294.6 341.14 L295.8 339.13 L296.9 337.55 L298 333.77 L299.1 332.82 L300.2 329.73 L301.3 327.47 L302.4 324.5 L303.6 319.13 L304.8 312.97 L306.05 305.72 L307.3 298.3 L308.9 293.46 L310.6 283.56 L311.4 293.08 L313 291.99 L314.25 295.62 L315.5 302.69 L316.7 306.57 L317.9 310.51 L319.15 316.16 L320.4 322.26 L321.6 331.58 L322.8 342.22 L324.4 349.66 L325.45 349.72 L326.5 349.79 L327.55 349.98 L328.6 349.69 L329.65 350.03 L330.7 350.1 L331.75 350.17 L332.8 350.23 L333.85 350.3 L334.9 350.37 L335.95 350.43 L337 350.5" fill="none" stroke="#2c2cae" stroke-width="1.1" stroke-linejoin="round" stroke-linecap="round"/>
<line x1="258.4" y1="350.5" x2="258.4" y2="342.4" stroke="#c83c3c" stroke-width="1.1"/>
<text x="5.2" y="404.9" font-size="14.2" text-anchor="start" font-weight="bold" fill="#111">C</text>
<line x1="47.3" y1="412.4" x2="47.3" y2="541.6" stroke="#111" stroke-width="1.6"/>
<line x1="46.5" y1="540.9" x2="236" y2="540.9" stroke="#111" stroke-width="1.6"/>
<line x1="43.1" y1="540.9" x2="47.3" y2="540.9" stroke="#111" stroke-width="1.4"/>
<text x="39.1" y="544.4" font-size="10" text-anchor="end" fill="#222">0</text>
<line x1="43.1" y1="498.3" x2="47.3" y2="498.3" stroke="#111" stroke-width="1.4"/>
<text x="39.1" y="501.13" font-size="10" text-anchor="end" fill="#222">100</text>
<line x1="43.1" y1="455.7" x2="47.3" y2="455.7" stroke="#111" stroke-width="1.4"/>
<text x="39.1" y="457.87" font-size="10" text-anchor="end" fill="#222">200</text>
<line x1="43.1" y1="413.1" x2="47.3" y2="413.1" stroke="#111" stroke-width="1.4"/>
<text x="39.1" y="414.6" font-size="10" text-anchor="end" fill="#222">300</text>
<rect x="52.8" y="539.28" width="27.2" height="1.62" fill="#0a0a0a"/>
<line x1="66.4" y1="540.9" x2="66.4" y2="544.7" stroke="#111" stroke-width="1.4"/>
<text x="63.6" y="555.9" font-size="10.4" text-anchor="middle" fill="#222">Nil</text>
<text x="66.55" y="542.7" font-size="18" text-anchor="middle" fill="#111" stroke="#111" stroke-width="0.35">***</text>
<rect x="90.9" y="539.28" width="27.2" height="1.62" fill="#0a0a0a"/>
<line x1="104.5" y1="540.9" x2="104.5" y2="544.7" stroke="#111" stroke-width="1.4"/>
<text x="102.9" y="555.9" font-size="10.4" text-anchor="middle" fill="#222">IL-1&#946;</text>
<text x="104.2" y="542.7" font-size="18" text-anchor="middle" fill="#111" stroke="#111" stroke-width="0.35">***</text>
<line x1="143.15" y1="419.7" x2="143.15" y2="439.51" stroke="#111" stroke-width="1.5"/>
<line x1="136.25" y1="419.7" x2="150.05" y2="419.7" stroke="#111" stroke-width="1.6"/>
<rect x="129.55" y="439.51" width="27.2" height="101.39" fill="#0a0a0a"/>
<line x1="143.15" y1="540.9" x2="143.15" y2="544.7" stroke="#111" stroke-width="1.4"/>
<text x="142.9" y="555.9" font-size="10.4" text-anchor="middle" fill="#222">IL-12</text>
<line x1="181.4" y1="536.64" x2="181.4" y2="537.49" stroke="#111" stroke-width="1.5"/>
<line x1="174.5" y1="536.64" x2="188.3" y2="536.64" stroke="#111" stroke-width="1.6"/>
<rect x="167.8" y="537.49" width="27.2" height="3.41" fill="#0a0a0a"/>
<line x1="181.4" y1="540.9" x2="181.4" y2="544.7" stroke="#111" stroke-width="1.4"/>
<text x="181.5" y="555.9" font-size="10.4" text-anchor="middle" fill="#222">IL-18</text>
<text x="181.35" y="540.15" font-size="18" text-anchor="middle" fill="#111" stroke="#111" stroke-width="0.35">***</text>
<line x1="219.7" y1="512.49" x2="219.7" y2="520.03" stroke="#111" stroke-width="1.5"/>
<line x1="212.8" y1="512.49" x2="226.6" y2="512.49" stroke="#111" stroke-width="1.6"/>
<rect x="206.1" y="520.03" width="27.2" height="20.87" fill="#0a0a0a"/>
<line x1="219.7" y1="540.9" x2="219.7" y2="544.7" stroke="#111" stroke-width="1.4"/>
<text x="220.6" y="555.9" font-size="10.4" text-anchor="middle" fill="#222">IL-23</text>
<text x="105.55" y="405.5" font-size="12" text-anchor="start" fill="#222">CD161</text>
<text x="142.95" y="401.15" font-size="10" text-anchor="start" fill="#222">hi</text>
<text x="155.45" y="405.5" font-size="12" text-anchor="start" fill="#222">CD62L</text>
<text x="193.35" y="402.38" font-size="12" text-anchor="start" fill="#222">+</text>
<text transform="translate(16.9 484.8) rotate(-90)" x="0" y="0" font-size="10.4" text-anchor="middle" fill="#222">Stimulation index</text>
<line x1="302" y1="413.9" x2="302" y2="542.5" stroke="#111" stroke-width="1.6"/>
<line x1="301.2" y1="541.8" x2="490" y2="541.8" stroke="#111" stroke-width="1.6"/>
<line x1="297.8" y1="541.8" x2="302" y2="541.8" stroke="#111" stroke-width="1.4"/>
<text x="293.8" y="545.3" font-size="10" text-anchor="end" fill="#222">0</text>
<line x1="297.8" y1="499.4" x2="302" y2="499.4" stroke="#111" stroke-width="1.4"/>
<text x="293.8" y="503.38" font-size="10" text-anchor="end" fill="#222">100</text>
<line x1="297.8" y1="457" x2="302" y2="457" stroke="#111" stroke-width="1.4"/>
<text x="293.8" y="461.45" font-size="10" text-anchor="end" fill="#222">200</text>
<line x1="297.8" y1="414.6" x2="302" y2="414.6" stroke="#111" stroke-width="1.4"/>
<text x="293.8" y="419.53" font-size="10" text-anchor="end" fill="#222">300</text>
<rect x="307.3" y="540.19" width="27.2" height="1.61" fill="#0a0a0a"/>
<line x1="320.9" y1="541.8" x2="320.9" y2="545.6" stroke="#111" stroke-width="1.4"/>
<text x="319.4" y="556.8" font-size="10.4" text-anchor="middle" fill="#222">Nil</text>
<text x="324" y="542.5" font-size="18" text-anchor="middle" fill="#111" stroke="#111" stroke-width="0.35">***</text>
<rect x="345.3" y="540.19" width="27.2" height="1.61" fill="#0a0a0a"/>
<line x1="358.9" y1="541.8" x2="358.9" y2="545.6" stroke="#111" stroke-width="1.4"/>
<text x="358.6" y="556.8" font-size="10.4" text-anchor="middle" fill="#222">IL-1&#946;</text>
<text x="359.1" y="542.5" font-size="18" text-anchor="middle" fill="#111" stroke="#111" stroke-width="0.35">***</text>
<line x1="397.9" y1="424.48" x2="397.9" y2="450" stroke="#111" stroke-width="1.5"/>
<line x1="391" y1="424.48" x2="404.8" y2="424.48" stroke="#111" stroke-width="1.6"/>
<rect x="384.3" y="450" width="27.2" height="91.8" fill="#0a0a0a"/>
<line x1="397.9" y1="541.8" x2="397.9" y2="545.6" stroke="#111" stroke-width="1.4"/>
<text x="397.9" y="556.8" font-size="10.4" text-anchor="middle" fill="#222">IL-12</text>
<line x1="436" y1="532.3" x2="436" y2="535.48" stroke="#111" stroke-width="1.5"/>
<line x1="429.1" y1="532.3" x2="442.9" y2="532.3" stroke="#111" stroke-width="1.6"/>
<rect x="422.4" y="535.48" width="27.2" height="6.32" fill="#0a0a0a"/>
<line x1="436" y1="541.8" x2="436" y2="545.6" stroke="#111" stroke-width="1.4"/>
<text x="436.6" y="556.8" font-size="10.4" text-anchor="middle" fill="#222">IL-18</text>
<text x="436.45" y="534.3" font-size="18" text-anchor="middle" fill="#111" stroke="#111" stroke-width="0.35">***</text>
<line x1="474.4" y1="497.49" x2="474.4" y2="512.97" stroke="#111" stroke-width="1.5"/>
<line x1="467.5" y1="497.49" x2="481.3" y2="497.49" stroke="#111" stroke-width="1.6"/>
<rect x="460.8" y="512.97" width="27.2" height="28.83" fill="#0a0a0a"/>
<line x1="474.4" y1="541.8" x2="474.4" y2="545.6" stroke="#111" stroke-width="1.4"/>
<text x="475.6" y="556.8" font-size="10.4" text-anchor="middle" fill="#222">IL-23</text>
<text x="359.85" y="405.5" font-size="12" text-anchor="start" fill="#222">CD161</text>
<text x="397.35" y="401.15" font-size="10" text-anchor="start" fill="#222">hi</text>
<text x="409.85" y="405.5" font-size="12" text-anchor="start" fill="#222">CD62L</text>
<text x="447.91" y="400.02" font-size="11" text-anchor="start" fill="#222">-</text>
<text transform="translate(272.2 484.8) rotate(-90)" x="0" y="0" font-size="10.4" text-anchor="middle" fill="#222">Stimulation index</text>
<text x="5.6" y="595.3" font-size="14.2" text-anchor="start" font-weight="bold" fill="#111">D</text>
<line x1="24.3" y1="601.6" x2="24.3" y2="703.5" stroke="#111" stroke-width="1.9"/>
<line x1="23.4" y1="702.6" x2="243" y2="702.6" stroke="#111" stroke-width="1.9"/>
<text transform="translate(17.3 654.3) rotate(-90)" x="0" y="0" font-size="10.8" text-anchor="middle" fill="#222">Events</text>
<text x="47.73" y="593.7" font-size="10.5" text-anchor="start" fill="#222">CD161</text>
<text x="81.08" y="590.96" font-size="9.6" text-anchor="start" fill="#222">hi</text>
<text x="92.92" y="593.7" font-size="10.5" text-anchor="start" fill="#222">CD62L</text>
<text x="125.72" y="591.17" font-size="10.5" text-anchor="start" fill="#222">+</text>
<text x="149.72" y="593.7" font-size="10.5" text-anchor="start" fill="#222">CD161</text>
<text x="183.08" y="590.96" font-size="9.6" text-anchor="start" fill="#222">hi</text>
<text x="195.32" y="593.7" font-size="10.5" text-anchor="start" fill="#222">CD62L</text>
<text x="228.85" y="590.05" font-size="10" text-anchor="start" fill="#222">-</text>
<rect x="41.5" y="601.8" width="97.6" height="87.4" fill="none" stroke="#9a9a9a" stroke-width="0.9"/>
<line x1="40.7" y1="602.8" x2="40.7" y2="688.2" stroke="#999" stroke-width="1.2" stroke-dasharray="0.6 1.6"/>
<rect x="143" y="601.5" width="98.3" height="88" fill="none" stroke="#9a9a9a" stroke-width="0.9"/>
<line x1="142.2" y1="602.5" x2="142.2" y2="688.5" stroke="#999" stroke-width="1.2" stroke-dasharray="0.6 1.6"/>
<text x="36" y="605.86" font-size="6" text-anchor="end" fill="#222">100</text>
<text x="36" y="622.6" font-size="6" text-anchor="end" fill="#222">80</text>
<text x="36" y="639.34" font-size="6" text-anchor="end" fill="#222">60</text>
<text x="36" y="656.08" font-size="6" text-anchor="end" fill="#222">40</text>
<text x="36" y="672.82" font-size="6" text-anchor="end" fill="#222">20</text>
<text x="36" y="689.56" font-size="6" text-anchor="end" fill="#222">0</text>
<text x="52.4" y="698.8" font-size="6.2" text-anchor="middle" fill="#222">0</text>
<text x="59.6" y="698.8" font-size="6.2" text-anchor="start" fill="#222">10<tspan dx="0.2" dy="-2.6" font-size="5.2">2</tspan></text>
<text x="81.7" y="698.8" font-size="6.2" text-anchor="start" fill="#222">10<tspan dx="0.2" dy="-2.6" font-size="5.2">3</tspan></text>
<text x="103.9" y="698.8" font-size="6.2" text-anchor="start" fill="#222">10<tspan dx="0.2" dy="-2.6" font-size="5.2">4</tspan></text>
<text x="125.6" y="698.8" font-size="6.2" text-anchor="start" fill="#222">10<tspan dx="0.2" dy="-2.6" font-size="5.2">5</tspan></text>
<text x="155.6" y="698.6" font-size="6.2" text-anchor="middle" fill="#222">0</text>
<text x="161" y="698.6" font-size="6.2" text-anchor="start" fill="#222">10<tspan dx="0.2" dy="-2.6" font-size="5.2">2</tspan></text>
<text x="183.2" y="698.6" font-size="6.2" text-anchor="start" fill="#222">10<tspan dx="0.2" dy="-2.6" font-size="5.2">3</tspan></text>
<text x="206.4" y="698.6" font-size="6.2" text-anchor="start" fill="#222">10<tspan dx="0.2" dy="-2.6" font-size="5.2">4</tspan></text>
<text x="230.2" y="698.6" font-size="6.2" text-anchor="start" fill="#222">10<tspan dx="0.2" dy="-2.6" font-size="5.2">5</tspan></text>
<text x="140.5" y="715.4" font-size="10.6" text-anchor="middle" fill="#222">CD161</text>
<path d="M42.5 687.8 C45.42 687.77 55.18 687.87 60 687.6 C64.82 687.33 68.03 687.4 71.4 686.2 C74.77 685 78.08 682.68 80.2 680.4 C82.32 678.12 82.95 676.1 84.1 672.5 C85.25 668.9 86.28 663.7 87.1 658.8 C87.92 653.9 88.28 648.33 89 643.1 C89.72 637.87 90.58 632.3 91.4 627.4 C92.22 622.5 93.15 617.13 93.9 613.7 C94.65 610.27 95.25 606.48 95.9 606.8 C96.55 607.12 97.25 611.83 97.8 615.6 C98.35 619.37 98.7 624.48 99.2 629.4 C99.7 634.32 100.22 639.88 100.8 645.1 C101.38 650.32 101.88 655.48 102.7 660.7 C103.52 665.92 104.72 672.15 105.7 676.4 C106.68 680.65 107.55 684.3 108.6 686.2 C109.65 688.1 107.1 687.53 112 687.8 C116.9 688.07 133.67 687.8 138 687.8" fill="none" stroke="#c83c3c" stroke-width="1.1" stroke-linejoin="round" stroke-linecap="round"/>
<path d="M42.5 687.8 C46.25 687.77 59.53 688.02 65 687.6 C70.47 687.18 72.6 686.35 75.3 685.3 C78 684.25 79.23 683.1 81.2 681.3 C83.17 679.5 85.47 677.6 87.1 674.5 C88.73 671.4 89.87 667.28 91 662.7 C92.13 658.12 93.08 651.25 93.9 647 C94.72 642.75 95.15 640.47 95.9 637.2 C96.65 633.93 97.58 631.32 98.4 627.4 C99.22 623.48 100.02 617.13 100.8 613.7 C101.58 610.27 102.28 606.48 103.1 606.8 C103.92 607.12 105.03 612.17 105.7 615.6 C106.37 619.03 106.68 623.47 107.1 627.4 C107.52 631.33 107.78 634.3 108.2 639.2 C108.62 644.1 109.03 651.25 109.6 656.8 C110.17 662.35 110.78 667.92 111.6 672.5 C112.42 677.08 113.52 681.75 114.5 684.3 C115.48 686.85 113.58 687.22 117.5 687.8 C121.42 688.38 134.58 687.8 138 687.8" fill="none" stroke="#2c2cae" stroke-width="1.1" stroke-linejoin="round" stroke-linecap="round"/>
<path d="M144 688.2 C147.5 688.17 160.6 688.07 165 688 C169.4 687.93 168.18 688.25 170.4 687.8 C172.62 687.35 175.85 686.87 178.3 685.3 C180.75 683.73 183.22 681.52 185.1 678.4 C186.98 675.28 188.28 671.17 189.6 666.6 C190.92 662.03 192.02 656.55 193 651 C193.98 645.45 194.68 639.2 195.5 633.3 C196.32 627.4 197.18 620.02 197.9 615.6 C198.62 611.18 199.15 607.12 199.8 606.8 C200.45 606.48 201.15 610.27 201.8 613.7 C202.45 617.13 203.05 621.85 203.7 627.4 C204.35 632.95 205.03 640.47 205.7 647 C206.37 653.53 206.88 660.72 207.7 666.6 C208.52 672.48 209.47 678.77 210.6 682.3 C211.73 685.83 209.6 686.82 214.5 687.8 C219.4 688.78 235.75 688.13 240 688.2" fill="none" stroke="#c83c3c" stroke-width="1.1" stroke-linejoin="round" stroke-linecap="round"/>
<path d="M144 688.2 C148.33 688.17 163.97 688.33 170 688 C176.03 687.67 177.18 687.47 180.2 686.2 C183.22 684.93 185.82 682.68 188.1 680.4 C190.38 678.12 192.27 676.1 193.9 672.5 C195.53 668.9 196.75 663.37 197.9 658.8 C199.05 654.23 199.98 650 200.8 645.1 C201.62 640.2 202.15 633.98 202.8 629.4 C203.45 624.82 203.95 621.37 204.7 617.6 C205.45 613.83 206.48 606.8 207.3 606.8 C208.12 606.8 208.95 612.53 209.6 617.6 C210.25 622.67 210.6 630.67 211.2 637.2 C211.8 643.73 212.55 650.92 213.2 656.8 C213.85 662.68 214.32 667.6 215.1 672.5 C215.88 677.4 217.18 683.58 217.9 686.2 C218.62 688.82 215.72 687.87 219.4 688.2 C223.08 688.53 236.57 688.2 240 688.2" fill="none" stroke="#2c2cae" stroke-width="1.1" stroke-linejoin="round" stroke-linecap="round"/>
<text x="277.9" y="595.7" font-size="14.2" text-anchor="start" font-weight="bold" fill="#111">E</text>
<line x1="303.2" y1="602.8" x2="303.2" y2="704.3" stroke="#111" stroke-width="1.9"/>
<line x1="302.3" y1="703.3" x2="517.6" y2="703.3" stroke="#111" stroke-width="1.9"/>
<text transform="translate(295.6 657) rotate(-90)" x="0" y="0" font-size="10.8" text-anchor="middle" fill="#222">Events</text>
<text x="340.91" y="595.2" font-size="10.7" text-anchor="start" fill="#222">CD62L</text>
<text x="374.87" y="591.33" font-size="9.5" text-anchor="start" fill="#222">+</text>
<text x="449.11" y="597.2" font-size="10.7" text-anchor="start" fill="#222">CD62L</text>
<text x="483.79" y="592.68" font-size="9" text-anchor="start" fill="#222">-</text>
<rect x="320" y="602.9" width="96.2" height="86.9" fill="none" stroke="#9a9a9a" stroke-width="0.9"/>
<line x1="319.2" y1="603.9" x2="319.2" y2="688.8" stroke="#999" stroke-width="1.2" stroke-dasharray="0.6 1.6"/>
<rect x="421.5" y="602.9" width="95.9" height="87.1" fill="none" stroke="#9a9a9a" stroke-width="0.9"/>
<line x1="420.7" y1="603.9" x2="420.7" y2="689" stroke="#999" stroke-width="1.2" stroke-dasharray="0.6 1.6"/>
<text x="314.5" y="607.66" font-size="6" text-anchor="end" fill="#222">100</text>
<text x="314.5" y="624.26" font-size="6" text-anchor="end" fill="#222">80</text>
<text x="314.5" y="640.86" font-size="6" text-anchor="end" fill="#222">60</text>
<text x="314.5" y="657.46" font-size="6" text-anchor="end" fill="#222">40</text>
<text x="314.5" y="674.06" font-size="6" text-anchor="end" fill="#222">20</text>
<text x="314.5" y="690.66" font-size="6" text-anchor="end" fill="#222">0</text>
<text x="330.8" y="700.6" font-size="6.2" text-anchor="middle" fill="#222">0</text>
<text x="337.6" y="700.6" font-size="6.2" text-anchor="start" fill="#222">10<tspan dx="0.2" dy="-2.6" font-size="5.2">2</tspan></text>
<text x="360" y="700.6" font-size="6.2" text-anchor="start" fill="#222">10<tspan dx="0.2" dy="-2.6" font-size="5.2">3</tspan></text>
<text x="382" y="700.6" font-size="6.2" text-anchor="start" fill="#222">10<tspan dx="0.2" dy="-2.6" font-size="5.2">4</tspan></text>
<text x="404.2" y="700.6" font-size="6.2" text-anchor="start" fill="#222">10<tspan dx="0.2" dy="-2.6" font-size="5.2">5</tspan></text>
<text x="434.8" y="700.6" font-size="6.2" text-anchor="middle" fill="#222">0</text>
<text x="438.4" y="700.6" font-size="6.2" text-anchor="start" fill="#222">10<tspan dx="0.2" dy="-2.6" font-size="5.2">2</tspan></text>
<text x="462.1" y="700.6" font-size="6.2" text-anchor="start" fill="#222">10<tspan dx="0.2" dy="-2.6" font-size="5.2">3</tspan></text>
<text x="484.6" y="700.6" font-size="6.2" text-anchor="start" fill="#222">10<tspan dx="0.2" dy="-2.6" font-size="5.2">4</tspan></text>
<text x="507.2" y="700.6" font-size="6.2" text-anchor="start" fill="#222">10<tspan dx="0.2" dy="-2.6" font-size="5.2">5</tspan></text>
<text x="419.6" y="716.3" font-size="10.6" text-anchor="middle" fill="#222">CD161</text>
<path d="M321 688.8 L321.91 688.79 L322.82 688.79 L323.73 688.78 L324.64 688.78 L325.55 688.77 L326.46 688.77 L327.37 688.76 L328.28 688.76 L329.19 688.75 L330.1 688.75 L331.01 688.74 L331.92 688.74 L332.83 688.73 L333.74 688.73 L334.66 688.72 L335.57 688.72 L336.48 688.71 L337.39 688.71 L338.3 688.7 L339.21 688.7 L340.12 688.69 L341.03 688.69 L341.94 688.68 L342.85 688.68 L343.76 688.67 L344.67 688.67 L345.58 688.66 L346.49 688.66 L347.4 688.65 L348.31 688.64 L349.22 688.64 L350.13 688.63 L351.04 688.63 L351.95 688.62 L352.86 688.62 L353.77 688.61 L354.68 688.61 L355.59 688.6 L356.5 688.6 L357.41 688.59 L358.32 688.59 L359.23 688.58 L360.14 688.58 L361.06 688.57 L361.97 688.57 L362.88 688.56 L363.79 688.56 L364.7 688.55 L365.61 688.55 L366.52 688.54 L367.43 688.54 L368.34 688.53 L369.25 688.53 L370.16 688.52 L371.07 688.52 L371.98 688.51 L372.89 688.51 L373.8 688.5 L374.76 687.79 L375.73 687.39 L376.69 686.83 L377.65 686.43 L378.61 686.37 L379.57 684.78 L380.54 684.92 L381.5 684.47 L382.45 682.61 L383.4 681.62 L384.35 680.25 L385.3 679.8 L386.27 675.88 L387.23 672.39 L388.2 669.69 L389.15 657.12 L390.1 647.51 L391.05 639.41 L392 628.3 L393 617.09 L394 608.94 L394.9 607.14 L396.5 612.8 L397.8 626.3 L398.75 640.52 L399.7 645.96 L400.7 656.42 L401.7 667.18 L402.65 675.51 L403.6 682.7 L404.55 685.96 L405.5 688.5 L406.41 688.53 L407.32 688.55 L408.23 688.58 L409.14 688.61 L410.05 688.64 L410.95 688.66 L411.86 688.69 L412.77 688.72 L413.68 688.75 L414.59 688.77 L415.5 688.8" fill="none" stroke="#c83c3c" stroke-width="1.3" stroke-linejoin="round" stroke-linecap="round"/>
<path d="M320.5 669 L320.9 676.46 L321.8 678.95 L322.8 674.07 L323.8 666.99 L324.77 660.44 L325.73 657.01 L326.7 652.37 L327.63 649.31 L328.57 640.88 L329.5 637.32 L330.5 637.86 L331.5 635.05 L332.45 630.98 L333.4 622.24 L334.35 619.53 L335.3 618 L336.25 622.46 L337.2 615.08 L338.2 612.71 L339.2 612.23 L340.7 608.81 L342 614.56 L343 611.73 L344 610.53 L344.95 620.28 L345.9 629.49 L346.85 633.83 L347.8 634.8 L348.75 639.16 L349.7 650.56 L350.7 654.68 L351.7 663.39 L352.65 664.55 L353.6 669.2 L354.55 670.77 L355.5 674.11 L356.47 676.97 L357.43 673.28 L358.4 673.43 L359.35 671.41 L360.3 672.25 L361.25 673.02 L362.2 672.05 L363.18 672.71 L364.15 672.66 L365.12 671.74 L366.1 673.29 L367.07 671.86 L368.03 674.35 L369 671.83 L369.95 673.04 L370.9 672.55 L371.85 673.76 L372.8 672.69 L373.77 674.99 L374.73 674.88 L375.7 676.58 L376.65 678.92 L377.6 680.85 L378.58 680.72 L379.55 682.27 L380.52 682.53 L381.5 683.22 L382.45 682.21 L383.4 682.57 L384.35 682.29 L385.3 681.8 L386.27 682.34 L387.25 682.82 L388.23 682.84 L389.2 683.41 L390.15 684.9 L391.1 686.62 L392.05 687.59 L393 687.92 L393.95 688.43 L394.9 688.8 L395.84 688.8 L396.77 688.8 L397.71 688.8 L398.65 688.8 L399.58 688.8 L400.52 688.8 L401.45 688.8 L402.39 688.8 L403.33 688.8 L404.26 688.8 L405.2 688.8 L406.14 688.8 L407.07 688.8 L408.01 688.8 L408.95 688.8 L409.88 688.8 L410.82 688.8 L411.75 688.8 L412.69 688.8 L413.63 688.8 L414.56 688.8 L415.5 688.8" fill="none" stroke="#2c2cae" stroke-width="1.3" stroke-linejoin="round" stroke-linecap="round"/>
<path d="M422.5 689 L423.4 688.99 L424.31 688.98 L425.21 688.97 L426.11 688.97 L427.02 688.96 L427.92 688.95 L428.82 688.94 L429.73 688.93 L430.63 688.92 L431.53 688.92 L432.44 688.91 L433.34 688.9 L434.24 688.89 L435.15 688.88 L436.05 688.87 L436.95 688.86 L437.86 688.86 L438.76 688.85 L439.66 688.84 L440.57 688.83 L441.47 688.82 L442.37 688.81 L443.28 688.81 L444.18 688.8 L445.08 688.79 L445.99 688.78 L446.89 688.77 L447.79 688.76 L448.7 688.75 L449.6 688.75 L450.51 688.74 L451.41 688.73 L452.31 688.72 L453.22 688.71 L454.12 688.7 L455.02 688.69 L455.93 688.69 L456.83 688.68 L457.73 688.67 L458.64 688.66 L459.54 688.65 L460.44 688.64 L461.35 688.64 L462.25 688.63 L463.15 688.62 L464.06 688.61 L464.96 688.6 L465.86 688.59 L466.77 688.58 L467.67 688.58 L468.57 688.57 L469.48 688.56 L470.38 688.55 L471.28 688.54 L472.19 688.53 L473.09 688.53 L473.99 688.52 L474.9 688.51 L475.8 688.5 L476.76 687.76 L477.72 687.79 L478.68 687.24 L479.64 686.76 L480.6 686.94 L481.56 686.19 L482.52 685.64 L483.48 686.26 L484.44 684.74 L485.4 684.26 L486.35 681.79 L487.3 680.36 L488.25 679.37 L489.2 677.28 L490.35 670.5 L491.5 662.75 L492.5 652.77 L493.5 639.11 L494.45 630.63 L495.4 618.05 L496.9 608.09 L497.9 616.36 L499.2 617.42 L500.8 632.54 L501.75 647.79 L502.7 656.41 L503.65 663.84 L504.6 672.99 L505.55 680.78 L506.5 684.55 L507.5 686.87 L508.5 688.5 L509.42 688.56 L510.34 688.61 L511.27 688.67 L512.19 688.72 L513.11 688.78 L514.03 688.83 L514.96 688.89 L515.88 688.94 L516.8 689" fill="none" stroke="#c83c3c" stroke-width="1.3" stroke-linejoin="round" stroke-linecap="round"/>
<path d="M422.2 689 L422.9 684.58 L423.85 680.05 L424.8 672.6 L425.75 670.22 L426.7 671.35 L427.7 667.16 L428.7 661.79 L429.65 654.72 L430.6 646.16 L431.55 641.43 L432.5 637.88 L433.47 637.92 L434.43 637.29 L435.4 638.44 L436.35 634.53 L437.3 627.64 L438.25 625.66 L439.2 619.28 L440.35 616.68 L441.5 610.56 L443.1 619.91 L444.05 616.61 L445 622.01 L445.95 612.68 L446.9 612.52 L447.85 614.68 L448.8 621.11 L449.8 633.7 L450.8 636.97 L451.75 644.49 L452.7 649.22 L453.65 655.13 L454.6 661.03 L455.57 666.04 L456.53 668.34 L457.5 672.34 L458.47 673.19 L459.43 671.02 L460.4 673.78 L461.37 672.71 L462.33 671.07 L463.3 671.97 L464.27 673.44 L465.23 673.44 L466.2 671.79 L467.16 671 L468.12 669.83 L469.08 669.45 L470.04 666.71 L471 666.09 L471.93 665.71 L472.87 667.2 L473.8 669.65 L474.77 669.88 L475.73 668.68 L476.7 668.73 L477.67 669.64 L478.63 671.23 L479.6 671.91 L480.58 672.59 L481.55 673.59 L482.52 673.01 L483.5 673.78 L484.43 673.45 L485.37 677.67 L486.3 678.86 L487.27 680.29 L488.25 679.43 L489.23 681.46 L490.2 682.55 L491.15 682.38 L492.1 684.74 L493.05 685.59 L494 685.32 L494.96 686.48 L495.92 687.58 L496.88 687.17 L497.84 688.43 L498.8 688.8 L499.75 688.81 L500.69 688.82 L501.64 688.83 L502.59 688.84 L503.54 688.85 L504.48 688.86 L505.43 688.87 L506.38 688.88 L507.33 688.89 L508.27 688.91 L509.22 688.92 L510.17 688.93 L511.12 688.94 L512.06 688.95 L513.01 688.96 L513.96 688.97 L514.91 688.98 L515.85 688.99 L516.8 689" fill="none" stroke="#2c2cae" stroke-width="1.3" stroke-linejoin="round" stroke-linecap="round"/>
</g></svg>
</body></html>
